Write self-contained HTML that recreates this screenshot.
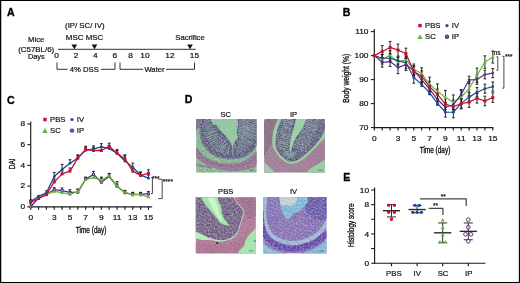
<!DOCTYPE html>
<html><head><meta charset="utf-8"><title>Figure</title>
<style>
html,body{margin:0;padding:0;background:#fff;overflow:hidden}
svg{display:block;position:absolute;left:0;top:0}
text{font-family:"Liberation Sans",sans-serif}
</style></head><body>
<svg width="520" height="283" viewBox="0 0 520 283">
<rect x="0" y="0" width="520" height="283" fill="#fff"/>
<text x="7.00" y="15.80" font-size="10.6" text-anchor="start" font-weight="bold" fill="#000"  stroke="#000" stroke-width="0.35">A</text>
<text x="84.80" y="28.10" font-size="7.8" text-anchor="middle" font-weight="normal" fill="#111" stroke="#111" stroke-width="0.2" >(IP/ SC/ IV)</text>
<text x="84.60" y="39.90" font-size="7.95" text-anchor="middle" font-weight="normal" fill="#111" stroke="#111" stroke-width="0.2" >MSC MSC</text>
<text x="36.20" y="42.10" font-size="7.7" text-anchor="middle" font-weight="normal" fill="#111" stroke="#111" stroke-width="0.2" >Mice</text>
<text x="36.20" y="51.80" font-size="7.9" text-anchor="middle" font-weight="normal" fill="#111" stroke="#111" stroke-width="0.2" >(C57BL/6)</text>
<text x="36.30" y="59.30" font-size="7.4" text-anchor="middle" font-weight="normal" fill="#111" stroke="#111" stroke-width="0.2" >Days</text>
<text x="190.00" y="39.60" font-size="7.7" text-anchor="middle" font-weight="normal" fill="#111" stroke="#111" stroke-width="0.2" >Sacrifice</text>
<line x1="58.00" y1="49.30" x2="195.80" y2="49.30" stroke="#1a1a1a" stroke-width="0.9" />
<polygon points="71.45,44.5 77.14999999999999,44.5 74.3,49.3" fill="#111"/>
<polygon points="91.65,44.5 97.35,44.5 94.5,49.3" fill="#111"/>
<polygon points="187.15,44.5 192.85,44.5 190,49.3" fill="#111"/>
<text transform="translate(56.60,58.30) scale(1.13,1)" font-size="7.4" text-anchor="middle" font-weight="normal" fill="#111" stroke="#111" stroke-width="0.2" >0</text>
<text transform="translate(76.10,58.30) scale(1.13,1)" font-size="7.4" text-anchor="middle" font-weight="normal" fill="#111" stroke="#111" stroke-width="0.2" >2</text>
<text transform="translate(95.20,58.30) scale(1.13,1)" font-size="7.4" text-anchor="middle" font-weight="normal" fill="#111" stroke="#111" stroke-width="0.2" >4</text>
<text transform="translate(114.70,58.30) scale(1.13,1)" font-size="7.4" text-anchor="middle" font-weight="normal" fill="#111" stroke="#111" stroke-width="0.2" >6</text>
<text transform="translate(130.50,58.30) scale(1.13,1)" font-size="7.4" text-anchor="middle" font-weight="normal" fill="#111" stroke="#111" stroke-width="0.2" >8</text>
<text transform="translate(145.00,58.30) scale(1.13,1)" font-size="7.4" text-anchor="middle" font-weight="normal" fill="#111" stroke="#111" stroke-width="0.2" >10</text>
<text transform="translate(170.00,58.30) scale(1.13,1)" font-size="7.4" text-anchor="middle" font-weight="normal" fill="#111" stroke="#111" stroke-width="0.2" >12</text>
<text transform="translate(194.50,58.30) scale(1.13,1)" font-size="7.4" text-anchor="middle" font-weight="normal" fill="#111" stroke="#111" stroke-width="0.2" >15</text>
<polyline points="57.00,62.50 57.00,69.30 67.50,69.30" fill="none" stroke="#1a1a1a" stroke-width="0.9" stroke-linejoin="round" />
<polyline points="100.80,69.30 115.00,69.30 115.00,62.50" fill="none" stroke="#1a1a1a" stroke-width="0.9" stroke-linejoin="round" />
<text x="84.30" y="71.80" font-size="7.7" text-anchor="middle" font-weight="normal" fill="#111" stroke="#111" stroke-width="0.2" >4% DSS</text>
<polyline points="120.00,62.50 120.00,69.30 143.00,69.30" fill="none" stroke="#1a1a1a" stroke-width="0.9" stroke-linejoin="round" />
<polyline points="166.00,69.30 194.50,69.30 194.50,62.50" fill="none" stroke="#1a1a1a" stroke-width="0.9" stroke-linejoin="round" />
<text x="154.50" y="71.80" font-size="7.7" text-anchor="middle" font-weight="normal" fill="#111" stroke="#111" stroke-width="0.2" >Water</text>
<text x="342.80" y="15.60" font-size="10.6" text-anchor="start" font-weight="bold" fill="#000"  stroke="#000" stroke-width="0.35">B</text>
<line x1="374.30" y1="29.00" x2="374.30" y2="128.10" stroke="#1a1a1a" stroke-width="1.15" />
<line x1="373.80" y1="127.60" x2="493.30" y2="127.60" stroke="#1a1a1a" stroke-width="1.15" />
<line x1="370.90" y1="127.60" x2="374.30" y2="127.60" stroke="#1a1a1a" stroke-width="1.1" />
<text transform="translate(368.50,129.90) scale(1.13,1)" font-size="7.4" text-anchor="end" font-weight="normal" fill="#111" stroke="#111" stroke-width="0.2" >70</text>
<line x1="370.90" y1="103.60" x2="374.30" y2="103.60" stroke="#1a1a1a" stroke-width="1.1" />
<text transform="translate(368.50,105.90) scale(1.13,1)" font-size="7.4" text-anchor="end" font-weight="normal" fill="#111" stroke="#111" stroke-width="0.2" >80</text>
<line x1="370.90" y1="79.60" x2="374.30" y2="79.60" stroke="#1a1a1a" stroke-width="1.1" />
<text transform="translate(368.50,81.90) scale(1.13,1)" font-size="7.4" text-anchor="end" font-weight="normal" fill="#111" stroke="#111" stroke-width="0.2" >90</text>
<line x1="370.90" y1="55.60" x2="374.30" y2="55.60" stroke="#1a1a1a" stroke-width="1.1" />
<text transform="translate(368.50,57.90) scale(1.13,1)" font-size="7.4" text-anchor="end" font-weight="normal" fill="#111" stroke="#111" stroke-width="0.2" >100</text>
<line x1="370.90" y1="31.60" x2="374.30" y2="31.60" stroke="#1a1a1a" stroke-width="1.1" />
<text transform="translate(368.50,33.90) scale(1.13,1)" font-size="7.4" text-anchor="end" font-weight="normal" fill="#111" stroke="#111" stroke-width="0.2" >110</text>
<line x1="374.30" y1="127.60" x2="374.30" y2="130.60" stroke="#1a1a1a" stroke-width="1.15" />
<line x1="382.20" y1="127.60" x2="382.20" y2="130.60" stroke="#1a1a1a" stroke-width="1.15" />
<line x1="390.10" y1="127.60" x2="390.10" y2="130.60" stroke="#1a1a1a" stroke-width="1.15" />
<line x1="398.00" y1="127.60" x2="398.00" y2="130.60" stroke="#1a1a1a" stroke-width="1.15" />
<line x1="405.90" y1="127.60" x2="405.90" y2="130.60" stroke="#1a1a1a" stroke-width="1.15" />
<line x1="413.80" y1="127.60" x2="413.80" y2="130.60" stroke="#1a1a1a" stroke-width="1.15" />
<line x1="421.70" y1="127.60" x2="421.70" y2="130.60" stroke="#1a1a1a" stroke-width="1.15" />
<line x1="429.60" y1="127.60" x2="429.60" y2="130.60" stroke="#1a1a1a" stroke-width="1.15" />
<line x1="437.50" y1="127.60" x2="437.50" y2="130.60" stroke="#1a1a1a" stroke-width="1.15" />
<line x1="445.40" y1="127.60" x2="445.40" y2="130.60" stroke="#1a1a1a" stroke-width="1.15" />
<line x1="453.30" y1="127.60" x2="453.30" y2="130.60" stroke="#1a1a1a" stroke-width="1.15" />
<line x1="461.20" y1="127.60" x2="461.20" y2="130.60" stroke="#1a1a1a" stroke-width="1.15" />
<line x1="469.10" y1="127.60" x2="469.10" y2="130.60" stroke="#1a1a1a" stroke-width="1.15" />
<line x1="477.00" y1="127.60" x2="477.00" y2="130.60" stroke="#1a1a1a" stroke-width="1.15" />
<line x1="484.90" y1="127.60" x2="484.90" y2="130.60" stroke="#1a1a1a" stroke-width="1.15" />
<line x1="492.80" y1="127.60" x2="492.80" y2="130.60" stroke="#1a1a1a" stroke-width="1.15" />
<text transform="translate(374.30,140.50) scale(1.13,1)" font-size="7.4" text-anchor="middle" font-weight="normal" fill="#111" stroke="#111" stroke-width="0.2" >0</text>
<text transform="translate(398.00,140.50) scale(1.13,1)" font-size="7.4" text-anchor="middle" font-weight="normal" fill="#111" stroke="#111" stroke-width="0.2" >3</text>
<text transform="translate(413.80,140.50) scale(1.13,1)" font-size="7.4" text-anchor="middle" font-weight="normal" fill="#111" stroke="#111" stroke-width="0.2" >5</text>
<text transform="translate(429.60,140.50) scale(1.13,1)" font-size="7.4" text-anchor="middle" font-weight="normal" fill="#111" stroke="#111" stroke-width="0.2" >7</text>
<text transform="translate(445.40,140.50) scale(1.13,1)" font-size="7.4" text-anchor="middle" font-weight="normal" fill="#111" stroke="#111" stroke-width="0.2" >9</text>
<text transform="translate(461.20,140.50) scale(1.13,1)" font-size="7.4" text-anchor="middle" font-weight="normal" fill="#111" stroke="#111" stroke-width="0.2" >11</text>
<text transform="translate(477.00,140.50) scale(1.13,1)" font-size="7.4" text-anchor="middle" font-weight="normal" fill="#111" stroke="#111" stroke-width="0.2" >13</text>
<text transform="translate(492.80,140.50) scale(1.13,1)" font-size="7.4" text-anchor="middle" font-weight="normal" fill="#111" stroke="#111" stroke-width="0.2" >15</text>
<text transform="translate(348.90,78.30) rotate(-90) scale(0.825,1)" font-size="8.2" text-anchor="middle" fill="#111" stroke="#111" stroke-width="0.32">Body weight (%)</text>
<text transform="translate(435.00,153.20) scale(0.79,1)" font-size="8.2" text-anchor="middle" fill="#111" stroke="#111" stroke-width="0.32">Time (day)</text>
<line x1="382.20" y1="54.40" x2="382.20" y2="64.00" stroke="#111" stroke-width="0.9" />
<line x1="380.80" y1="54.40" x2="383.60" y2="54.40" stroke="#111" stroke-width="0.9" />
<line x1="380.80" y1="64.00" x2="383.60" y2="64.00" stroke="#111" stroke-width="0.9" />
<line x1="390.10" y1="50.56" x2="390.10" y2="60.16" stroke="#111" stroke-width="0.9" />
<line x1="388.70" y1="50.56" x2="391.50" y2="50.56" stroke="#111" stroke-width="0.9" />
<line x1="388.70" y1="60.16" x2="391.50" y2="60.16" stroke="#111" stroke-width="0.9" />
<line x1="398.00" y1="57.28" x2="398.00" y2="66.88" stroke="#111" stroke-width="0.9" />
<line x1="396.60" y1="57.28" x2="399.40" y2="57.28" stroke="#111" stroke-width="0.9" />
<line x1="396.60" y1="66.88" x2="399.40" y2="66.88" stroke="#111" stroke-width="0.9" />
<line x1="405.90" y1="55.12" x2="405.90" y2="64.72" stroke="#111" stroke-width="0.9" />
<line x1="404.50" y1="55.12" x2="407.30" y2="55.12" stroke="#111" stroke-width="0.9" />
<line x1="404.50" y1="64.72" x2="407.30" y2="64.72" stroke="#111" stroke-width="0.9" />
<line x1="413.80" y1="64.00" x2="413.80" y2="74.56" stroke="#111" stroke-width="0.9" />
<line x1="412.40" y1="64.00" x2="415.20" y2="64.00" stroke="#111" stroke-width="0.9" />
<line x1="412.40" y1="74.56" x2="415.20" y2="74.56" stroke="#111" stroke-width="0.9" />
<line x1="421.70" y1="67.84" x2="421.70" y2="79.84" stroke="#111" stroke-width="0.9" />
<line x1="420.30" y1="67.84" x2="423.10" y2="67.84" stroke="#111" stroke-width="0.9" />
<line x1="420.30" y1="79.84" x2="423.10" y2="79.84" stroke="#111" stroke-width="0.9" />
<line x1="429.60" y1="77.20" x2="429.60" y2="91.60" stroke="#111" stroke-width="0.9" />
<line x1="428.20" y1="77.20" x2="431.00" y2="77.20" stroke="#111" stroke-width="0.9" />
<line x1="428.20" y1="91.60" x2="431.00" y2="91.60" stroke="#111" stroke-width="0.9" />
<line x1="437.50" y1="83.92" x2="437.50" y2="98.32" stroke="#111" stroke-width="0.9" />
<line x1="436.10" y1="83.92" x2="438.90" y2="83.92" stroke="#111" stroke-width="0.9" />
<line x1="436.10" y1="98.32" x2="438.90" y2="98.32" stroke="#111" stroke-width="0.9" />
<line x1="445.40" y1="90.40" x2="445.40" y2="104.80" stroke="#111" stroke-width="0.9" />
<line x1="444.00" y1="90.40" x2="446.80" y2="90.40" stroke="#111" stroke-width="0.9" />
<line x1="444.00" y1="104.80" x2="446.80" y2="104.80" stroke="#111" stroke-width="0.9" />
<line x1="453.30" y1="94.96" x2="453.30" y2="109.36" stroke="#111" stroke-width="0.9" />
<line x1="451.90" y1="94.96" x2="454.70" y2="94.96" stroke="#111" stroke-width="0.9" />
<line x1="451.90" y1="109.36" x2="454.70" y2="109.36" stroke="#111" stroke-width="0.9" />
<line x1="461.20" y1="89.92" x2="461.20" y2="104.32" stroke="#111" stroke-width="0.9" />
<line x1="459.80" y1="89.92" x2="462.60" y2="89.92" stroke="#111" stroke-width="0.9" />
<line x1="459.80" y1="104.32" x2="462.60" y2="104.32" stroke="#111" stroke-width="0.9" />
<line x1="469.10" y1="81.52" x2="469.10" y2="95.92" stroke="#111" stroke-width="0.9" />
<line x1="467.70" y1="81.52" x2="470.50" y2="81.52" stroke="#111" stroke-width="0.9" />
<line x1="467.70" y1="95.92" x2="470.50" y2="95.92" stroke="#111" stroke-width="0.9" />
<line x1="477.00" y1="68.08" x2="477.00" y2="82.48" stroke="#111" stroke-width="0.9" />
<line x1="475.60" y1="68.08" x2="478.40" y2="68.08" stroke="#111" stroke-width="0.9" />
<line x1="475.60" y1="82.48" x2="478.40" y2="82.48" stroke="#111" stroke-width="0.9" />
<line x1="484.90" y1="55.84" x2="484.90" y2="68.32" stroke="#111" stroke-width="0.9" />
<line x1="483.50" y1="55.84" x2="486.30" y2="55.84" stroke="#111" stroke-width="0.9" />
<line x1="483.50" y1="68.32" x2="486.30" y2="68.32" stroke="#111" stroke-width="0.9" />
<line x1="492.80" y1="51.04" x2="492.80" y2="63.04" stroke="#111" stroke-width="0.9" />
<line x1="491.40" y1="51.04" x2="494.20" y2="51.04" stroke="#111" stroke-width="0.9" />
<line x1="491.40" y1="63.04" x2="494.20" y2="63.04" stroke="#111" stroke-width="0.9" />
<line x1="382.20" y1="54.64" x2="382.20" y2="61.84" stroke="#111" stroke-width="0.9" />
<line x1="380.80" y1="54.64" x2="383.60" y2="54.64" stroke="#111" stroke-width="0.9" />
<line x1="380.80" y1="61.84" x2="383.60" y2="61.84" stroke="#111" stroke-width="0.9" />
<line x1="390.10" y1="54.64" x2="390.10" y2="61.84" stroke="#111" stroke-width="0.9" />
<line x1="388.70" y1="54.64" x2="391.50" y2="54.64" stroke="#111" stroke-width="0.9" />
<line x1="388.70" y1="61.84" x2="391.50" y2="61.84" stroke="#111" stroke-width="0.9" />
<line x1="398.00" y1="57.04" x2="398.00" y2="64.24" stroke="#111" stroke-width="0.9" />
<line x1="396.60" y1="57.04" x2="399.40" y2="57.04" stroke="#111" stroke-width="0.9" />
<line x1="396.60" y1="64.24" x2="399.40" y2="64.24" stroke="#111" stroke-width="0.9" />
<line x1="405.90" y1="56.80" x2="405.90" y2="68.80" stroke="#111" stroke-width="0.9" />
<line x1="404.50" y1="56.80" x2="407.30" y2="56.80" stroke="#111" stroke-width="0.9" />
<line x1="404.50" y1="68.80" x2="407.30" y2="68.80" stroke="#111" stroke-width="0.9" />
<line x1="413.80" y1="71.68" x2="413.80" y2="83.20" stroke="#111" stroke-width="0.9" />
<line x1="412.40" y1="71.68" x2="415.20" y2="71.68" stroke="#111" stroke-width="0.9" />
<line x1="412.40" y1="83.20" x2="415.20" y2="83.20" stroke="#111" stroke-width="0.9" />
<line x1="421.70" y1="82.48" x2="421.70" y2="86.32" stroke="#111" stroke-width="0.9" />
<line x1="420.30" y1="82.48" x2="423.10" y2="82.48" stroke="#111" stroke-width="0.9" />
<line x1="420.30" y1="86.32" x2="423.10" y2="86.32" stroke="#111" stroke-width="0.9" />
<line x1="429.60" y1="90.88" x2="429.60" y2="94.72" stroke="#111" stroke-width="0.9" />
<line x1="428.20" y1="90.88" x2="431.00" y2="90.88" stroke="#111" stroke-width="0.9" />
<line x1="428.20" y1="94.72" x2="431.00" y2="94.72" stroke="#111" stroke-width="0.9" />
<line x1="437.50" y1="101.44" x2="437.50" y2="105.28" stroke="#111" stroke-width="0.9" />
<line x1="436.10" y1="101.44" x2="438.90" y2="101.44" stroke="#111" stroke-width="0.9" />
<line x1="436.10" y1="105.28" x2="438.90" y2="105.28" stroke="#111" stroke-width="0.9" />
<line x1="445.40" y1="107.44" x2="445.40" y2="117.04" stroke="#111" stroke-width="0.9" />
<line x1="444.00" y1="107.44" x2="446.80" y2="107.44" stroke="#111" stroke-width="0.9" />
<line x1="444.00" y1="117.04" x2="446.80" y2="117.04" stroke="#111" stroke-width="0.9" />
<line x1="453.30" y1="106.72" x2="453.30" y2="117.76" stroke="#111" stroke-width="0.9" />
<line x1="451.90" y1="106.72" x2="454.70" y2="106.72" stroke="#111" stroke-width="0.9" />
<line x1="451.90" y1="117.76" x2="454.70" y2="117.76" stroke="#111" stroke-width="0.9" />
<line x1="461.20" y1="98.56" x2="461.20" y2="108.16" stroke="#111" stroke-width="0.9" />
<line x1="459.80" y1="98.56" x2="462.60" y2="98.56" stroke="#111" stroke-width="0.9" />
<line x1="459.80" y1="108.16" x2="462.60" y2="108.16" stroke="#111" stroke-width="0.9" />
<line x1="469.10" y1="92.32" x2="469.10" y2="101.92" stroke="#111" stroke-width="0.9" />
<line x1="467.70" y1="92.32" x2="470.50" y2="92.32" stroke="#111" stroke-width="0.9" />
<line x1="467.70" y1="101.92" x2="470.50" y2="101.92" stroke="#111" stroke-width="0.9" />
<line x1="477.00" y1="87.52" x2="477.00" y2="97.12" stroke="#111" stroke-width="0.9" />
<line x1="475.60" y1="87.52" x2="478.40" y2="87.52" stroke="#111" stroke-width="0.9" />
<line x1="475.60" y1="97.12" x2="478.40" y2="97.12" stroke="#111" stroke-width="0.9" />
<line x1="484.90" y1="84.16" x2="484.90" y2="93.28" stroke="#111" stroke-width="0.9" />
<line x1="483.50" y1="84.16" x2="486.30" y2="84.16" stroke="#111" stroke-width="0.9" />
<line x1="483.50" y1="93.28" x2="486.30" y2="93.28" stroke="#111" stroke-width="0.9" />
<line x1="492.80" y1="82.00" x2="492.80" y2="91.12" stroke="#111" stroke-width="0.9" />
<line x1="491.40" y1="82.00" x2="494.20" y2="82.00" stroke="#111" stroke-width="0.9" />
<line x1="491.40" y1="91.12" x2="494.20" y2="91.12" stroke="#111" stroke-width="0.9" />
<line x1="382.20" y1="57.52" x2="382.20" y2="67.12" stroke="#111" stroke-width="0.9" />
<line x1="380.80" y1="57.52" x2="383.60" y2="57.52" stroke="#111" stroke-width="0.9" />
<line x1="380.80" y1="67.12" x2="383.60" y2="67.12" stroke="#111" stroke-width="0.9" />
<line x1="390.10" y1="56.80" x2="390.10" y2="66.40" stroke="#111" stroke-width="0.9" />
<line x1="388.70" y1="56.80" x2="391.50" y2="56.80" stroke="#111" stroke-width="0.9" />
<line x1="388.70" y1="66.40" x2="391.50" y2="66.40" stroke="#111" stroke-width="0.9" />
<line x1="398.00" y1="61.60" x2="398.00" y2="73.60" stroke="#111" stroke-width="0.9" />
<line x1="396.60" y1="61.60" x2="399.40" y2="61.60" stroke="#111" stroke-width="0.9" />
<line x1="396.60" y1="73.60" x2="399.40" y2="73.60" stroke="#111" stroke-width="0.9" />
<line x1="405.90" y1="58.48" x2="405.90" y2="70.48" stroke="#111" stroke-width="0.9" />
<line x1="404.50" y1="58.48" x2="407.30" y2="58.48" stroke="#111" stroke-width="0.9" />
<line x1="404.50" y1="70.48" x2="407.30" y2="70.48" stroke="#111" stroke-width="0.9" />
<line x1="413.80" y1="65.92" x2="413.80" y2="75.52" stroke="#111" stroke-width="0.9" />
<line x1="412.40" y1="65.92" x2="415.20" y2="65.92" stroke="#111" stroke-width="0.9" />
<line x1="412.40" y1="75.52" x2="415.20" y2="75.52" stroke="#111" stroke-width="0.9" />
<line x1="421.70" y1="74.80" x2="421.70" y2="84.40" stroke="#111" stroke-width="0.9" />
<line x1="420.30" y1="74.80" x2="423.10" y2="74.80" stroke="#111" stroke-width="0.9" />
<line x1="420.30" y1="84.40" x2="423.10" y2="84.40" stroke="#111" stroke-width="0.9" />
<line x1="429.60" y1="84.40" x2="429.60" y2="94.00" stroke="#111" stroke-width="0.9" />
<line x1="428.20" y1="84.40" x2="431.00" y2="84.40" stroke="#111" stroke-width="0.9" />
<line x1="428.20" y1="94.00" x2="431.00" y2="94.00" stroke="#111" stroke-width="0.9" />
<line x1="437.50" y1="94.72" x2="437.50" y2="104.32" stroke="#111" stroke-width="0.9" />
<line x1="436.10" y1="94.72" x2="438.90" y2="94.72" stroke="#111" stroke-width="0.9" />
<line x1="436.10" y1="104.32" x2="438.90" y2="104.32" stroke="#111" stroke-width="0.9" />
<line x1="445.40" y1="102.40" x2="445.40" y2="112.00" stroke="#111" stroke-width="0.9" />
<line x1="444.00" y1="102.40" x2="446.80" y2="102.40" stroke="#111" stroke-width="0.9" />
<line x1="444.00" y1="112.00" x2="446.80" y2="112.00" stroke="#111" stroke-width="0.9" />
<line x1="453.30" y1="100.00" x2="453.30" y2="109.60" stroke="#111" stroke-width="0.9" />
<line x1="451.90" y1="100.00" x2="454.70" y2="100.00" stroke="#111" stroke-width="0.9" />
<line x1="451.90" y1="109.60" x2="454.70" y2="109.60" stroke="#111" stroke-width="0.9" />
<line x1="461.20" y1="89.68" x2="461.20" y2="99.28" stroke="#111" stroke-width="0.9" />
<line x1="459.80" y1="89.68" x2="462.60" y2="89.68" stroke="#111" stroke-width="0.9" />
<line x1="459.80" y1="99.28" x2="462.60" y2="99.28" stroke="#111" stroke-width="0.9" />
<line x1="469.10" y1="76.24" x2="469.10" y2="83.44" stroke="#111" stroke-width="0.9" />
<line x1="467.70" y1="76.24" x2="470.50" y2="76.24" stroke="#111" stroke-width="0.9" />
<line x1="467.70" y1="83.44" x2="470.50" y2="83.44" stroke="#111" stroke-width="0.9" />
<line x1="477.00" y1="74.80" x2="477.00" y2="84.40" stroke="#111" stroke-width="0.9" />
<line x1="475.60" y1="74.80" x2="478.40" y2="74.80" stroke="#111" stroke-width="0.9" />
<line x1="475.60" y1="84.40" x2="478.40" y2="84.40" stroke="#111" stroke-width="0.9" />
<line x1="484.90" y1="70.24" x2="484.90" y2="78.88" stroke="#111" stroke-width="0.9" />
<line x1="483.50" y1="70.24" x2="486.30" y2="70.24" stroke="#111" stroke-width="0.9" />
<line x1="483.50" y1="78.88" x2="486.30" y2="78.88" stroke="#111" stroke-width="0.9" />
<line x1="492.80" y1="68.56" x2="492.80" y2="77.68" stroke="#111" stroke-width="0.9" />
<line x1="491.40" y1="68.56" x2="494.20" y2="68.56" stroke="#111" stroke-width="0.9" />
<line x1="491.40" y1="77.68" x2="494.20" y2="77.68" stroke="#111" stroke-width="0.9" />
<line x1="382.20" y1="45.52" x2="382.20" y2="57.52" stroke="#111" stroke-width="0.9" />
<line x1="380.80" y1="45.52" x2="383.60" y2="45.52" stroke="#111" stroke-width="0.9" />
<line x1="380.80" y1="57.52" x2="383.60" y2="57.52" stroke="#111" stroke-width="0.9" />
<line x1="390.10" y1="41.44" x2="390.10" y2="53.44" stroke="#111" stroke-width="0.9" />
<line x1="388.70" y1="41.44" x2="391.50" y2="41.44" stroke="#111" stroke-width="0.9" />
<line x1="388.70" y1="53.44" x2="391.50" y2="53.44" stroke="#111" stroke-width="0.9" />
<line x1="398.00" y1="44.08" x2="398.00" y2="56.08" stroke="#111" stroke-width="0.9" />
<line x1="396.60" y1="44.08" x2="399.40" y2="44.08" stroke="#111" stroke-width="0.9" />
<line x1="396.60" y1="56.08" x2="399.40" y2="56.08" stroke="#111" stroke-width="0.9" />
<line x1="405.90" y1="48.16" x2="405.90" y2="58.72" stroke="#111" stroke-width="0.9" />
<line x1="404.50" y1="48.16" x2="407.30" y2="48.16" stroke="#111" stroke-width="0.9" />
<line x1="404.50" y1="58.72" x2="407.30" y2="58.72" stroke="#111" stroke-width="0.9" />
<line x1="413.80" y1="66.16" x2="413.80" y2="76.72" stroke="#111" stroke-width="0.9" />
<line x1="412.40" y1="66.16" x2="415.20" y2="66.16" stroke="#111" stroke-width="0.9" />
<line x1="412.40" y1="76.72" x2="415.20" y2="76.72" stroke="#111" stroke-width="0.9" />
<line x1="421.70" y1="70.96" x2="421.70" y2="81.52" stroke="#111" stroke-width="0.9" />
<line x1="420.30" y1="70.96" x2="423.10" y2="70.96" stroke="#111" stroke-width="0.9" />
<line x1="420.30" y1="81.52" x2="423.10" y2="81.52" stroke="#111" stroke-width="0.9" />
<line x1="429.60" y1="81.28" x2="429.60" y2="91.84" stroke="#111" stroke-width="0.9" />
<line x1="428.20" y1="81.28" x2="431.00" y2="81.28" stroke="#111" stroke-width="0.9" />
<line x1="428.20" y1="91.84" x2="431.00" y2="91.84" stroke="#111" stroke-width="0.9" />
<line x1="437.50" y1="89.20" x2="437.50" y2="99.76" stroke="#111" stroke-width="0.9" />
<line x1="436.10" y1="89.20" x2="438.90" y2="89.20" stroke="#111" stroke-width="0.9" />
<line x1="436.10" y1="99.76" x2="438.90" y2="99.76" stroke="#111" stroke-width="0.9" />
<line x1="445.40" y1="98.80" x2="445.40" y2="109.36" stroke="#111" stroke-width="0.9" />
<line x1="444.00" y1="98.80" x2="446.80" y2="98.80" stroke="#111" stroke-width="0.9" />
<line x1="444.00" y1="109.36" x2="446.80" y2="109.36" stroke="#111" stroke-width="0.9" />
<line x1="453.30" y1="101.44" x2="453.30" y2="112.00" stroke="#111" stroke-width="0.9" />
<line x1="451.90" y1="101.44" x2="454.70" y2="101.44" stroke="#111" stroke-width="0.9" />
<line x1="451.90" y1="112.00" x2="454.70" y2="112.00" stroke="#111" stroke-width="0.9" />
<line x1="461.20" y1="98.32" x2="461.20" y2="108.88" stroke="#111" stroke-width="0.9" />
<line x1="459.80" y1="98.32" x2="462.60" y2="98.32" stroke="#111" stroke-width="0.9" />
<line x1="459.80" y1="108.88" x2="462.60" y2="108.88" stroke="#111" stroke-width="0.9" />
<line x1="469.10" y1="96.88" x2="469.10" y2="107.44" stroke="#111" stroke-width="0.9" />
<line x1="467.70" y1="96.88" x2="470.50" y2="96.88" stroke="#111" stroke-width="0.9" />
<line x1="467.70" y1="107.44" x2="470.50" y2="107.44" stroke="#111" stroke-width="0.9" />
<line x1="477.00" y1="93.52" x2="477.00" y2="103.12" stroke="#111" stroke-width="0.9" />
<line x1="475.60" y1="93.52" x2="478.40" y2="93.52" stroke="#111" stroke-width="0.9" />
<line x1="475.60" y1="103.12" x2="478.40" y2="103.12" stroke="#111" stroke-width="0.9" />
<line x1="484.90" y1="96.16" x2="484.90" y2="105.76" stroke="#111" stroke-width="0.9" />
<line x1="483.50" y1="96.16" x2="486.30" y2="96.16" stroke="#111" stroke-width="0.9" />
<line x1="483.50" y1="105.76" x2="486.30" y2="105.76" stroke="#111" stroke-width="0.9" />
<line x1="492.80" y1="92.80" x2="492.80" y2="102.40" stroke="#111" stroke-width="0.9" />
<line x1="491.40" y1="92.80" x2="494.20" y2="92.80" stroke="#111" stroke-width="0.9" />
<line x1="491.40" y1="102.40" x2="494.20" y2="102.40" stroke="#111" stroke-width="0.9" />
<polyline points="374.30,55.60 382.20,59.20 390.10,55.36 398.00,62.08 405.90,59.92 413.80,69.28 421.70,73.84 429.60,84.40 437.50,91.12 445.40,97.60 453.30,102.16 461.20,97.12 469.10,88.72 477.00,75.28 484.90,62.08 492.80,57.04" fill="none" stroke="#62b53e" stroke-width="1.2" stroke-linejoin="round" />
<polygon points="374.30,53.80 372.50,57.04 376.10,57.04" fill="#62b53e"/>
<polygon points="382.20,57.40 380.40,60.64 384.00,60.64" fill="#62b53e"/>
<polygon points="390.10,53.56 388.30,56.80 391.90,56.80" fill="#62b53e"/>
<polygon points="398.00,60.28 396.20,63.52 399.80,63.52" fill="#62b53e"/>
<polygon points="405.90,58.12 404.10,61.36 407.70,61.36" fill="#62b53e"/>
<polygon points="413.80,67.48 412.00,70.72 415.60,70.72" fill="#62b53e"/>
<polygon points="421.70,72.04 419.90,75.28 423.50,75.28" fill="#62b53e"/>
<polygon points="429.60,82.60 427.80,85.84 431.40,85.84" fill="#62b53e"/>
<polygon points="437.50,89.32 435.70,92.56 439.30,92.56" fill="#62b53e"/>
<polygon points="445.40,95.80 443.60,99.04 447.20,99.04" fill="#62b53e"/>
<polygon points="453.30,100.36 451.50,103.60 455.10,103.60" fill="#62b53e"/>
<polygon points="461.20,95.32 459.40,98.56 463.00,98.56" fill="#62b53e"/>
<polygon points="469.10,86.92 467.30,90.16 470.90,90.16" fill="#62b53e"/>
<polygon points="477.00,73.48 475.20,76.72 478.80,76.72" fill="#62b53e"/>
<polygon points="484.90,60.28 483.10,63.52 486.70,63.52" fill="#62b53e"/>
<polygon points="492.80,55.24 491.00,58.48 494.60,58.48" fill="#62b53e"/>
<polyline points="374.30,55.60 382.20,58.24 390.10,58.24 398.00,60.64 405.90,62.80 413.80,77.44 421.70,84.40 429.60,92.80 437.50,103.36 445.40,112.24 453.30,112.24 461.20,103.36 469.10,97.12 477.00,92.32 484.90,88.72 492.80,86.56" fill="none" stroke="#1e4a90" stroke-width="1.2" stroke-linejoin="round" />
<circle cx="374.30" cy="55.60" r="1.37" fill="#1e4a90"/>
<circle cx="382.20" cy="58.24" r="1.37" fill="#1e4a90"/>
<circle cx="390.10" cy="58.24" r="1.37" fill="#1e4a90"/>
<circle cx="398.00" cy="60.64" r="1.37" fill="#1e4a90"/>
<circle cx="405.90" cy="62.80" r="1.37" fill="#1e4a90"/>
<circle cx="413.80" cy="77.44" r="1.37" fill="#1e4a90"/>
<circle cx="421.70" cy="84.40" r="1.37" fill="#1e4a90"/>
<circle cx="429.60" cy="92.80" r="1.37" fill="#1e4a90"/>
<circle cx="437.50" cy="103.36" r="1.37" fill="#1e4a90"/>
<circle cx="445.40" cy="112.24" r="1.37" fill="#1e4a90"/>
<circle cx="453.30" cy="112.24" r="1.37" fill="#1e4a90"/>
<circle cx="461.20" cy="103.36" r="1.37" fill="#1e4a90"/>
<circle cx="469.10" cy="97.12" r="1.37" fill="#1e4a90"/>
<circle cx="477.00" cy="92.32" r="1.37" fill="#1e4a90"/>
<circle cx="484.90" cy="88.72" r="1.37" fill="#1e4a90"/>
<circle cx="492.80" cy="86.56" r="1.37" fill="#1e4a90"/>
<polyline points="374.30,55.60 382.20,62.32 390.10,61.60 398.00,67.60 405.90,64.48 413.80,70.72 421.70,79.60 429.60,89.20 437.50,99.52 445.40,107.20 453.30,104.80 461.20,94.48 469.10,79.84 477.00,79.60 484.90,74.56 492.80,73.12" fill="none" stroke="#5a2b80" stroke-width="1.2" stroke-linejoin="round" />
<polygon points="374.30,53.98 372.68,55.60 374.30,57.22 375.92,55.60" fill="#5a2b80"/>
<polygon points="382.20,60.70 380.58,62.32 382.20,63.94 383.82,62.32" fill="#5a2b80"/>
<polygon points="390.10,59.98 388.48,61.60 390.10,63.22 391.72,61.60" fill="#5a2b80"/>
<polygon points="398.00,65.98 396.38,67.60 398.00,69.22 399.62,67.60" fill="#5a2b80"/>
<polygon points="405.90,62.86 404.28,64.48 405.90,66.10 407.52,64.48" fill="#5a2b80"/>
<polygon points="413.80,69.10 412.18,70.72 413.80,72.34 415.42,70.72" fill="#5a2b80"/>
<polygon points="421.70,77.98 420.08,79.60 421.70,81.22 423.32,79.60" fill="#5a2b80"/>
<polygon points="429.60,87.58 427.98,89.20 429.60,90.82 431.22,89.20" fill="#5a2b80"/>
<polygon points="437.50,97.90 435.88,99.52 437.50,101.14 439.12,99.52" fill="#5a2b80"/>
<polygon points="445.40,105.58 443.78,107.20 445.40,108.82 447.02,107.20" fill="#5a2b80"/>
<polygon points="453.30,103.18 451.68,104.80 453.30,106.42 454.92,104.80" fill="#5a2b80"/>
<polygon points="461.20,92.86 459.58,94.48 461.20,96.10 462.82,94.48" fill="#5a2b80"/>
<polygon points="469.10,78.22 467.48,79.84 469.10,81.46 470.72,79.84" fill="#5a2b80"/>
<polygon points="477.00,77.98 475.38,79.60 477.00,81.22 478.62,79.60" fill="#5a2b80"/>
<polygon points="484.90,72.94 483.28,74.56 484.90,76.18 486.52,74.56" fill="#5a2b80"/>
<polygon points="492.80,71.50 491.18,73.12 492.80,74.74 494.42,73.12" fill="#5a2b80"/>
<polyline points="374.30,55.60 382.20,51.52 390.10,47.44 398.00,50.08 405.90,53.44 413.80,71.44 421.70,76.24 429.60,86.56 437.50,94.48 445.40,104.08 453.30,106.72 461.20,103.60 469.10,102.16 477.00,98.32 484.90,100.96 492.80,97.60" fill="none" stroke="#c4122f" stroke-width="1.2" stroke-linejoin="round" />
<rect x="372.80" y="54.10" width="3.00" height="3.00" fill="#c4122f"/>
<rect x="380.70" y="50.02" width="3.00" height="3.00" fill="#c4122f"/>
<rect x="388.60" y="45.94" width="3.00" height="3.00" fill="#c4122f"/>
<rect x="396.50" y="48.58" width="3.00" height="3.00" fill="#c4122f"/>
<rect x="404.40" y="51.94" width="3.00" height="3.00" fill="#c4122f"/>
<rect x="412.30" y="69.94" width="3.00" height="3.00" fill="#c4122f"/>
<rect x="420.20" y="74.74" width="3.00" height="3.00" fill="#c4122f"/>
<rect x="428.10" y="85.06" width="3.00" height="3.00" fill="#c4122f"/>
<rect x="436.00" y="92.98" width="3.00" height="3.00" fill="#c4122f"/>
<rect x="443.90" y="102.58" width="3.00" height="3.00" fill="#c4122f"/>
<rect x="451.80" y="105.22" width="3.00" height="3.00" fill="#c4122f"/>
<rect x="459.70" y="102.10" width="3.00" height="3.00" fill="#c4122f"/>
<rect x="467.60" y="100.66" width="3.00" height="3.00" fill="#c4122f"/>
<rect x="475.50" y="96.82" width="3.00" height="3.00" fill="#c4122f"/>
<rect x="483.40" y="99.46" width="3.00" height="3.00" fill="#c4122f"/>
<rect x="491.30" y="96.10" width="3.00" height="3.00" fill="#c4122f"/>
<rect x="418.27" y="23.88" width="3.45" height="3.45" fill="#c4122f"/>
<text x="425.00" y="28.00" font-size="7.7" text-anchor="start" font-weight="normal" fill="#111" stroke="#111" stroke-width="0.2" >PBS</text>
<circle cx="447.00" cy="25.60" r="1.62" fill="#1e4a90"/>
<text x="451.75" y="28.00" font-size="7.7" text-anchor="start" font-weight="normal" fill="#111" stroke="#111" stroke-width="0.2" >IV</text>
<polygon points="420.00,34.20 417.30,39.06 422.70,39.06" fill="#62b53e"/>
<text x="425.00" y="39.00" font-size="7.7" text-anchor="start" font-weight="normal" fill="#111" stroke="#111" stroke-width="0.2" >SC</text>
<circle cx="447.00" cy="36.70" r="2.2" fill="#5a2b80"/><circle cx="447.00" cy="36.70" r="0.8" fill="#a58cc0"/>
<text x="451.75" y="39.00" font-size="7.7" text-anchor="start" font-weight="normal" fill="#111" stroke="#111" stroke-width="0.2" >IP</text>
<text x="493.40" y="55.00" font-size="6.8" text-anchor="start" font-weight="normal" fill="#111" stroke="#111" stroke-width="0.2" >ns</text>
<polyline points="496.40,56.80 497.80,56.80 497.80,70.30 496.40,70.30" fill="none" stroke="#1a1a1a" stroke-width="0.8" stroke-linejoin="round" />
<polyline points="502.30,56.30 503.90,56.30 503.90,88.20 502.30,88.20" fill="none" stroke="#1a1a1a" stroke-width="0.8" stroke-linejoin="round" />
<text x="505.00" y="59.00" font-size="6.5" text-anchor="start" font-weight="normal" fill="#111" stroke="#111" stroke-width="0.2" >***</text>
<text x="7.00" y="103.50" font-size="10.6" text-anchor="start" font-weight="bold" fill="#000"  stroke="#000" stroke-width="0.35">C</text>
<line x1="30.70" y1="121.50" x2="30.70" y2="207.30" stroke="#1a1a1a" stroke-width="1.15" />
<line x1="30.20" y1="206.80" x2="152.15" y2="206.80" stroke="#1a1a1a" stroke-width="1.15" />
<line x1="27.30" y1="206.80" x2="30.70" y2="206.80" stroke="#1a1a1a" stroke-width="1.1" />
<text transform="translate(25.20,209.00) scale(1.13,1)" font-size="7.4" text-anchor="end" font-weight="normal" fill="#111" stroke="#111" stroke-width="0.2" >0</text>
<line x1="27.30" y1="186.10" x2="30.70" y2="186.10" stroke="#1a1a1a" stroke-width="1.1" />
<text transform="translate(25.20,188.30) scale(1.13,1)" font-size="7.4" text-anchor="end" font-weight="normal" fill="#111" stroke="#111" stroke-width="0.2" >2</text>
<line x1="27.30" y1="165.40" x2="30.70" y2="165.40" stroke="#1a1a1a" stroke-width="1.1" />
<text transform="translate(25.20,167.60) scale(1.13,1)" font-size="7.4" text-anchor="end" font-weight="normal" fill="#111" stroke="#111" stroke-width="0.2" >4</text>
<line x1="27.30" y1="144.70" x2="30.70" y2="144.70" stroke="#1a1a1a" stroke-width="1.1" />
<text transform="translate(25.20,146.90) scale(1.13,1)" font-size="7.4" text-anchor="end" font-weight="normal" fill="#111" stroke="#111" stroke-width="0.2" >6</text>
<line x1="27.30" y1="124.00" x2="30.70" y2="124.00" stroke="#1a1a1a" stroke-width="1.1" />
<text transform="translate(25.20,126.20) scale(1.13,1)" font-size="7.4" text-anchor="end" font-weight="normal" fill="#111" stroke="#111" stroke-width="0.2" >8</text>
<line x1="30.70" y1="206.80" x2="30.70" y2="209.80" stroke="#1a1a1a" stroke-width="1.15" />
<line x1="38.55" y1="206.80" x2="38.55" y2="209.80" stroke="#1a1a1a" stroke-width="1.15" />
<line x1="46.40" y1="206.80" x2="46.40" y2="209.80" stroke="#1a1a1a" stroke-width="1.15" />
<line x1="54.25" y1="206.80" x2="54.25" y2="209.80" stroke="#1a1a1a" stroke-width="1.15" />
<line x1="62.10" y1="206.80" x2="62.10" y2="209.80" stroke="#1a1a1a" stroke-width="1.15" />
<line x1="69.95" y1="206.80" x2="69.95" y2="209.80" stroke="#1a1a1a" stroke-width="1.15" />
<line x1="77.80" y1="206.80" x2="77.80" y2="209.80" stroke="#1a1a1a" stroke-width="1.15" />
<line x1="85.65" y1="206.80" x2="85.65" y2="209.80" stroke="#1a1a1a" stroke-width="1.15" />
<line x1="93.50" y1="206.80" x2="93.50" y2="209.80" stroke="#1a1a1a" stroke-width="1.15" />
<line x1="101.35" y1="206.80" x2="101.35" y2="209.80" stroke="#1a1a1a" stroke-width="1.15" />
<line x1="109.20" y1="206.80" x2="109.20" y2="209.80" stroke="#1a1a1a" stroke-width="1.15" />
<line x1="117.05" y1="206.80" x2="117.05" y2="209.80" stroke="#1a1a1a" stroke-width="1.15" />
<line x1="124.90" y1="206.80" x2="124.90" y2="209.80" stroke="#1a1a1a" stroke-width="1.15" />
<line x1="132.75" y1="206.80" x2="132.75" y2="209.80" stroke="#1a1a1a" stroke-width="1.15" />
<line x1="140.60" y1="206.80" x2="140.60" y2="209.80" stroke="#1a1a1a" stroke-width="1.15" />
<line x1="148.45" y1="206.80" x2="148.45" y2="209.80" stroke="#1a1a1a" stroke-width="1.15" />
<text transform="translate(30.70,219.80) scale(1.13,1)" font-size="7.4" text-anchor="middle" font-weight="normal" fill="#111" stroke="#111" stroke-width="0.2" >0</text>
<text transform="translate(54.25,219.80) scale(1.13,1)" font-size="7.4" text-anchor="middle" font-weight="normal" fill="#111" stroke="#111" stroke-width="0.2" >3</text>
<text transform="translate(69.95,219.80) scale(1.13,1)" font-size="7.4" text-anchor="middle" font-weight="normal" fill="#111" stroke="#111" stroke-width="0.2" >5</text>
<text transform="translate(85.65,219.80) scale(1.13,1)" font-size="7.4" text-anchor="middle" font-weight="normal" fill="#111" stroke="#111" stroke-width="0.2" >7</text>
<text transform="translate(101.35,219.80) scale(1.13,1)" font-size="7.4" text-anchor="middle" font-weight="normal" fill="#111" stroke="#111" stroke-width="0.2" >9</text>
<text transform="translate(117.05,219.80) scale(1.13,1)" font-size="7.4" text-anchor="middle" font-weight="normal" fill="#111" stroke="#111" stroke-width="0.2" >11</text>
<text transform="translate(132.75,219.80) scale(1.13,1)" font-size="7.4" text-anchor="middle" font-weight="normal" fill="#111" stroke="#111" stroke-width="0.2" >13</text>
<text transform="translate(148.45,219.80) scale(1.13,1)" font-size="7.4" text-anchor="middle" font-weight="normal" fill="#111" stroke="#111" stroke-width="0.2" >15</text>
<text transform="translate(15.10,163.80) rotate(-90) scale(0.78,1)" font-size="8.2" text-anchor="middle" fill="#111" stroke="#111" stroke-width="0.32">DAI</text>
<text transform="translate(91.15,232.60) scale(0.79,1)" font-size="8.2" text-anchor="middle" fill="#111" stroke="#111" stroke-width="0.32">Time (day)</text>
<line x1="54.25" y1="187.65" x2="54.25" y2="189.72" stroke="#111" stroke-width="0.9" />
<line x1="52.85" y1="187.65" x2="55.65" y2="187.65" stroke="#111" stroke-width="0.9" />
<line x1="62.10" y1="187.96" x2="62.10" y2="190.55" stroke="#111" stroke-width="0.9" />
<line x1="60.70" y1="187.96" x2="63.50" y2="187.96" stroke="#111" stroke-width="0.9" />
<line x1="69.95" y1="189.72" x2="69.95" y2="192.31" stroke="#111" stroke-width="0.9" />
<line x1="68.55" y1="189.72" x2="71.35" y2="189.72" stroke="#111" stroke-width="0.9" />
<line x1="77.80" y1="189.21" x2="77.80" y2="192.31" stroke="#111" stroke-width="0.9" />
<line x1="76.40" y1="189.21" x2="79.20" y2="189.21" stroke="#111" stroke-width="0.9" />
<line x1="85.65" y1="177.10" x2="85.65" y2="179.17" stroke="#111" stroke-width="0.9" />
<line x1="84.25" y1="177.10" x2="87.05" y2="177.10" stroke="#111" stroke-width="0.9" />
<line x1="93.50" y1="171.40" x2="93.50" y2="174.51" stroke="#111" stroke-width="0.9" />
<line x1="92.10" y1="171.40" x2="94.90" y2="171.40" stroke="#111" stroke-width="0.9" />
<line x1="101.35" y1="177.10" x2="101.35" y2="182.27" stroke="#111" stroke-width="0.9" />
<line x1="99.95" y1="177.10" x2="102.75" y2="177.10" stroke="#111" stroke-width="0.9" />
<line x1="109.20" y1="173.47" x2="109.20" y2="176.58" stroke="#111" stroke-width="0.9" />
<line x1="107.80" y1="173.47" x2="110.60" y2="173.47" stroke="#111" stroke-width="0.9" />
<line x1="117.05" y1="181.65" x2="117.05" y2="186.31" stroke="#111" stroke-width="0.9" />
<line x1="115.65" y1="181.65" x2="118.45" y2="181.65" stroke="#111" stroke-width="0.9" />
<line x1="124.90" y1="190.76" x2="124.90" y2="192.83" stroke="#111" stroke-width="0.9" />
<line x1="123.50" y1="190.76" x2="126.30" y2="190.76" stroke="#111" stroke-width="0.9" />
<line x1="132.75" y1="192.31" x2="132.75" y2="194.38" stroke="#111" stroke-width="0.9" />
<line x1="131.35" y1="192.31" x2="134.15" y2="192.31" stroke="#111" stroke-width="0.9" />
<line x1="140.60" y1="192.31" x2="140.60" y2="194.38" stroke="#111" stroke-width="0.9" />
<line x1="139.20" y1="192.31" x2="142.00" y2="192.31" stroke="#111" stroke-width="0.9" />
<line x1="148.45" y1="191.59" x2="148.45" y2="193.66" stroke="#111" stroke-width="0.9" />
<line x1="147.05" y1="191.59" x2="149.85" y2="191.59" stroke="#111" stroke-width="0.9" />
<line x1="54.25" y1="189.21" x2="54.25" y2="191.28" stroke="#111" stroke-width="0.9" />
<line x1="52.85" y1="189.21" x2="55.65" y2="189.21" stroke="#111" stroke-width="0.9" />
<line x1="62.10" y1="190.45" x2="62.10" y2="192.52" stroke="#111" stroke-width="0.9" />
<line x1="60.70" y1="190.45" x2="63.50" y2="190.45" stroke="#111" stroke-width="0.9" />
<line x1="69.95" y1="192.31" x2="69.95" y2="194.38" stroke="#111" stroke-width="0.9" />
<line x1="68.55" y1="192.31" x2="71.35" y2="192.31" stroke="#111" stroke-width="0.9" />
<line x1="77.80" y1="189.21" x2="77.80" y2="191.28" stroke="#111" stroke-width="0.9" />
<line x1="76.40" y1="189.21" x2="79.20" y2="189.21" stroke="#111" stroke-width="0.9" />
<line x1="85.65" y1="177.61" x2="85.65" y2="179.68" stroke="#111" stroke-width="0.9" />
<line x1="84.25" y1="177.61" x2="87.05" y2="177.61" stroke="#111" stroke-width="0.9" />
<line x1="93.50" y1="175.54" x2="93.50" y2="177.61" stroke="#111" stroke-width="0.9" />
<line x1="92.10" y1="175.54" x2="94.90" y2="175.54" stroke="#111" stroke-width="0.9" />
<line x1="101.35" y1="178.03" x2="101.35" y2="180.10" stroke="#111" stroke-width="0.9" />
<line x1="99.95" y1="178.03" x2="102.75" y2="178.03" stroke="#111" stroke-width="0.9" />
<line x1="109.20" y1="173.68" x2="109.20" y2="175.75" stroke="#111" stroke-width="0.9" />
<line x1="107.80" y1="173.68" x2="110.60" y2="173.68" stroke="#111" stroke-width="0.9" />
<line x1="117.05" y1="184.03" x2="117.05" y2="186.10" stroke="#111" stroke-width="0.9" />
<line x1="115.65" y1="184.03" x2="118.45" y2="184.03" stroke="#111" stroke-width="0.9" />
<line x1="124.90" y1="190.34" x2="124.90" y2="192.41" stroke="#111" stroke-width="0.9" />
<line x1="123.50" y1="190.34" x2="126.30" y2="190.34" stroke="#111" stroke-width="0.9" />
<line x1="132.75" y1="192.62" x2="132.75" y2="194.69" stroke="#111" stroke-width="0.9" />
<line x1="131.35" y1="192.62" x2="134.15" y2="192.62" stroke="#111" stroke-width="0.9" />
<line x1="140.60" y1="192.62" x2="140.60" y2="194.69" stroke="#111" stroke-width="0.9" />
<line x1="139.20" y1="192.62" x2="142.00" y2="192.62" stroke="#111" stroke-width="0.9" />
<line x1="148.45" y1="194.69" x2="148.45" y2="196.76" stroke="#111" stroke-width="0.9" />
<line x1="147.05" y1="194.69" x2="149.85" y2="194.69" stroke="#111" stroke-width="0.9" />
<line x1="30.70" y1="200.38" x2="30.70" y2="201.42" stroke="#111" stroke-width="0.9" />
<line x1="29.30" y1="200.38" x2="32.10" y2="200.38" stroke="#111" stroke-width="0.9" />
<line x1="38.55" y1="195.42" x2="38.55" y2="196.45" stroke="#111" stroke-width="0.9" />
<line x1="37.15" y1="195.42" x2="39.95" y2="195.42" stroke="#111" stroke-width="0.9" />
<line x1="46.40" y1="190.76" x2="46.40" y2="192.83" stroke="#111" stroke-width="0.9" />
<line x1="45.00" y1="190.76" x2="47.80" y2="190.76" stroke="#111" stroke-width="0.9" />
<line x1="54.25" y1="172.44" x2="54.25" y2="176.58" stroke="#111" stroke-width="0.9" />
<line x1="52.85" y1="172.44" x2="55.65" y2="172.44" stroke="#111" stroke-width="0.9" />
<line x1="62.10" y1="164.37" x2="62.10" y2="169.54" stroke="#111" stroke-width="0.9" />
<line x1="60.70" y1="164.37" x2="63.50" y2="164.37" stroke="#111" stroke-width="0.9" />
<line x1="69.95" y1="159.71" x2="69.95" y2="163.33" stroke="#111" stroke-width="0.9" />
<line x1="68.55" y1="159.71" x2="71.35" y2="159.71" stroke="#111" stroke-width="0.9" />
<line x1="77.80" y1="155.05" x2="77.80" y2="158.16" stroke="#111" stroke-width="0.9" />
<line x1="76.40" y1="155.05" x2="79.20" y2="155.05" stroke="#111" stroke-width="0.9" />
<line x1="85.65" y1="147.29" x2="85.65" y2="150.39" stroke="#111" stroke-width="0.9" />
<line x1="84.25" y1="147.29" x2="87.05" y2="147.29" stroke="#111" stroke-width="0.9" />
<line x1="93.50" y1="145.84" x2="93.50" y2="148.94" stroke="#111" stroke-width="0.9" />
<line x1="92.10" y1="145.84" x2="94.90" y2="145.84" stroke="#111" stroke-width="0.9" />
<line x1="101.35" y1="143.67" x2="101.35" y2="146.77" stroke="#111" stroke-width="0.9" />
<line x1="99.95" y1="143.67" x2="102.75" y2="143.67" stroke="#111" stroke-width="0.9" />
<line x1="109.20" y1="145.53" x2="109.20" y2="148.63" stroke="#111" stroke-width="0.9" />
<line x1="107.80" y1="145.53" x2="110.60" y2="145.53" stroke="#111" stroke-width="0.9" />
<line x1="117.05" y1="149.67" x2="117.05" y2="153.29" stroke="#111" stroke-width="0.9" />
<line x1="115.65" y1="149.67" x2="118.45" y2="149.67" stroke="#111" stroke-width="0.9" />
<line x1="124.90" y1="154.84" x2="124.90" y2="161.05" stroke="#111" stroke-width="0.9" />
<line x1="123.50" y1="154.84" x2="126.30" y2="154.84" stroke="#111" stroke-width="0.9" />
<line x1="132.75" y1="163.12" x2="132.75" y2="167.26" stroke="#111" stroke-width="0.9" />
<line x1="131.35" y1="163.12" x2="134.15" y2="163.12" stroke="#111" stroke-width="0.9" />
<line x1="140.60" y1="171.92" x2="140.60" y2="175.03" stroke="#111" stroke-width="0.9" />
<line x1="139.20" y1="171.92" x2="142.00" y2="171.92" stroke="#111" stroke-width="0.9" />
<line x1="148.45" y1="175.03" x2="148.45" y2="178.13" stroke="#111" stroke-width="0.9" />
<line x1="147.05" y1="175.03" x2="149.85" y2="175.03" stroke="#111" stroke-width="0.9" />
<line x1="30.70" y1="199.87" x2="30.70" y2="202.45" stroke="#111" stroke-width="0.9" />
<line x1="29.30" y1="199.87" x2="32.10" y2="199.87" stroke="#111" stroke-width="0.9" />
<line x1="38.55" y1="197.49" x2="38.55" y2="198.52" stroke="#111" stroke-width="0.9" />
<line x1="37.15" y1="197.49" x2="39.95" y2="197.49" stroke="#111" stroke-width="0.9" />
<line x1="46.40" y1="193.66" x2="46.40" y2="194.69" stroke="#111" stroke-width="0.9" />
<line x1="45.00" y1="193.66" x2="47.80" y2="193.66" stroke="#111" stroke-width="0.9" />
<line x1="54.25" y1="178.86" x2="54.25" y2="181.96" stroke="#111" stroke-width="0.9" />
<line x1="52.85" y1="178.86" x2="55.65" y2="178.86" stroke="#111" stroke-width="0.9" />
<line x1="62.10" y1="170.78" x2="62.10" y2="173.89" stroke="#111" stroke-width="0.9" />
<line x1="60.70" y1="170.78" x2="63.50" y2="170.78" stroke="#111" stroke-width="0.9" />
<line x1="69.95" y1="167.99" x2="69.95" y2="171.09" stroke="#111" stroke-width="0.9" />
<line x1="68.55" y1="167.99" x2="71.35" y2="167.99" stroke="#111" stroke-width="0.9" />
<line x1="77.80" y1="155.05" x2="77.80" y2="158.16" stroke="#111" stroke-width="0.9" />
<line x1="76.40" y1="155.05" x2="79.20" y2="155.05" stroke="#111" stroke-width="0.9" />
<line x1="85.65" y1="146.25" x2="85.65" y2="149.36" stroke="#111" stroke-width="0.9" />
<line x1="84.25" y1="146.25" x2="87.05" y2="146.25" stroke="#111" stroke-width="0.9" />
<line x1="93.50" y1="147.39" x2="93.50" y2="150.50" stroke="#111" stroke-width="0.9" />
<line x1="92.10" y1="147.39" x2="94.90" y2="147.39" stroke="#111" stroke-width="0.9" />
<line x1="101.35" y1="147.39" x2="101.35" y2="150.50" stroke="#111" stroke-width="0.9" />
<line x1="99.95" y1="147.39" x2="102.75" y2="147.39" stroke="#111" stroke-width="0.9" />
<line x1="109.20" y1="143.15" x2="109.20" y2="146.25" stroke="#111" stroke-width="0.9" />
<line x1="107.80" y1="143.15" x2="110.60" y2="143.15" stroke="#111" stroke-width="0.9" />
<line x1="117.05" y1="150.19" x2="117.05" y2="153.29" stroke="#111" stroke-width="0.9" />
<line x1="115.65" y1="150.19" x2="118.45" y2="150.19" stroke="#111" stroke-width="0.9" />
<line x1="124.90" y1="155.57" x2="124.90" y2="158.67" stroke="#111" stroke-width="0.9" />
<line x1="123.50" y1="155.57" x2="126.30" y2="155.57" stroke="#111" stroke-width="0.9" />
<line x1="132.75" y1="167.99" x2="132.75" y2="171.09" stroke="#111" stroke-width="0.9" />
<line x1="131.35" y1="167.99" x2="134.15" y2="167.99" stroke="#111" stroke-width="0.9" />
<line x1="140.60" y1="172.33" x2="140.60" y2="175.44" stroke="#111" stroke-width="0.9" />
<line x1="139.20" y1="172.33" x2="142.00" y2="172.33" stroke="#111" stroke-width="0.9" />
<line x1="148.45" y1="169.85" x2="148.45" y2="173.47" stroke="#111" stroke-width="0.9" />
<line x1="147.05" y1="169.85" x2="149.85" y2="169.85" stroke="#111" stroke-width="0.9" />
<polyline points="30.70,206.80 38.55,198.00 46.40,194.38 54.25,189.72 62.10,190.55 69.95,192.31 77.80,192.31 85.65,179.17 93.50,174.51 101.35,182.27 109.20,176.58 117.05,186.31 124.90,192.83 132.75,194.38 140.60,194.38 148.45,193.66" fill="none" stroke="#5a2b80" stroke-width="1.3" stroke-linejoin="round" />
<circle cx="30.70" cy="206.80" r="1.23" fill="#cbb9dc" stroke="#5a2b80" stroke-width="1.1"/>
<circle cx="38.55" cy="198.00" r="1.23" fill="#cbb9dc" stroke="#5a2b80" stroke-width="1.1"/>
<circle cx="46.40" cy="194.38" r="1.23" fill="#cbb9dc" stroke="#5a2b80" stroke-width="1.1"/>
<circle cx="54.25" cy="189.72" r="1.23" fill="#cbb9dc" stroke="#5a2b80" stroke-width="1.1"/>
<circle cx="62.10" cy="190.55" r="1.23" fill="#cbb9dc" stroke="#5a2b80" stroke-width="1.1"/>
<circle cx="69.95" cy="192.31" r="1.23" fill="#cbb9dc" stroke="#5a2b80" stroke-width="1.1"/>
<circle cx="77.80" cy="192.31" r="1.23" fill="#cbb9dc" stroke="#5a2b80" stroke-width="1.1"/>
<circle cx="85.65" cy="179.17" r="1.23" fill="#cbb9dc" stroke="#5a2b80" stroke-width="1.1"/>
<circle cx="93.50" cy="174.51" r="1.23" fill="#cbb9dc" stroke="#5a2b80" stroke-width="1.1"/>
<circle cx="101.35" cy="182.27" r="1.23" fill="#cbb9dc" stroke="#5a2b80" stroke-width="1.1"/>
<circle cx="109.20" cy="176.58" r="1.23" fill="#cbb9dc" stroke="#5a2b80" stroke-width="1.1"/>
<circle cx="117.05" cy="186.31" r="1.23" fill="#cbb9dc" stroke="#5a2b80" stroke-width="1.1"/>
<circle cx="124.90" cy="192.83" r="1.23" fill="#cbb9dc" stroke="#5a2b80" stroke-width="1.1"/>
<circle cx="132.75" cy="194.38" r="1.23" fill="#cbb9dc" stroke="#5a2b80" stroke-width="1.1"/>
<circle cx="140.60" cy="194.38" r="1.23" fill="#cbb9dc" stroke="#5a2b80" stroke-width="1.1"/>
<circle cx="148.45" cy="193.66" r="1.23" fill="#cbb9dc" stroke="#5a2b80" stroke-width="1.1"/>
<polyline points="38.55,198.00 46.40,194.38 54.25,191.28 62.10,192.52 69.95,194.38 77.80,191.28 85.65,179.68 93.50,177.61 101.35,180.10 109.20,175.75 117.05,186.10 124.90,192.41 132.75,194.69 140.60,194.69 148.45,196.76" fill="none" stroke="#62b53e" stroke-width="1.3" stroke-linejoin="round" />
<polygon points="38.55,196.20 36.75,199.44 40.35,199.44" fill="#62b53e"/>
<polygon points="46.40,192.58 44.60,195.82 48.20,195.82" fill="#62b53e"/>
<polygon points="54.25,189.47 52.45,192.72 56.05,192.72" fill="#62b53e"/>
<polygon points="62.10,190.72 60.30,193.96 63.90,193.96" fill="#62b53e"/>
<polygon points="69.95,192.58 68.15,195.82 71.75,195.82" fill="#62b53e"/>
<polygon points="77.80,189.47 76.00,192.72 79.60,192.72" fill="#62b53e"/>
<polygon points="85.65,177.88 83.85,181.12 87.45,181.12" fill="#62b53e"/>
<polygon points="93.50,175.81 91.70,179.05 95.30,179.05" fill="#62b53e"/>
<polygon points="101.35,178.30 99.55,181.54 103.15,181.54" fill="#62b53e"/>
<polygon points="109.20,173.95 107.40,177.19 111.00,177.19" fill="#62b53e"/>
<polygon points="117.05,184.30 115.25,187.54 118.85,187.54" fill="#62b53e"/>
<polygon points="124.90,190.61 123.10,193.85 126.70,193.85" fill="#62b53e"/>
<polygon points="132.75,192.89 130.95,196.13 134.55,196.13" fill="#62b53e"/>
<polygon points="140.60,192.89 138.80,196.13 142.40,196.13" fill="#62b53e"/>
<polygon points="148.45,194.96 146.65,198.20 150.25,198.20" fill="#62b53e"/>
<polyline points="30.70,201.42 38.55,196.45 46.40,192.83 54.25,176.58 62.10,169.54 69.95,163.33 77.80,158.16 85.65,150.39 93.50,148.94 101.35,146.77 109.20,148.63 117.05,153.29 124.90,161.05 132.75,167.26 140.60,175.03 148.45,178.13" fill="none" stroke="#1e4a90" stroke-width="1.3" stroke-linejoin="round" />
<circle cx="30.70" cy="201.42" r="1.37" fill="#1e4a90"/>
<circle cx="38.55" cy="196.45" r="1.37" fill="#1e4a90"/>
<circle cx="46.40" cy="192.83" r="1.37" fill="#1e4a90"/>
<circle cx="54.25" cy="176.58" r="1.37" fill="#1e4a90"/>
<circle cx="62.10" cy="169.54" r="1.37" fill="#1e4a90"/>
<circle cx="69.95" cy="163.33" r="1.37" fill="#1e4a90"/>
<circle cx="77.80" cy="158.16" r="1.37" fill="#1e4a90"/>
<circle cx="85.65" cy="150.39" r="1.37" fill="#1e4a90"/>
<circle cx="93.50" cy="148.94" r="1.37" fill="#1e4a90"/>
<circle cx="101.35" cy="146.77" r="1.37" fill="#1e4a90"/>
<circle cx="109.20" cy="148.63" r="1.37" fill="#1e4a90"/>
<circle cx="117.05" cy="153.29" r="1.37" fill="#1e4a90"/>
<circle cx="124.90" cy="161.05" r="1.37" fill="#1e4a90"/>
<circle cx="132.75" cy="167.26" r="1.37" fill="#1e4a90"/>
<circle cx="140.60" cy="175.03" r="1.37" fill="#1e4a90"/>
<circle cx="148.45" cy="178.13" r="1.37" fill="#1e4a90"/>
<polyline points="30.70,202.45 38.55,198.52 46.40,194.69 54.25,181.96 62.10,173.89 69.95,171.09 77.80,158.16 85.65,149.36 93.50,150.50 101.35,150.50 109.20,146.25 117.05,153.29 124.90,158.67 132.75,171.09 140.60,175.44 148.45,173.47" fill="none" stroke="#c4122f" stroke-width="1.3" stroke-linejoin="round" />
<rect x="29.20" y="200.95" width="3.00" height="3.00" fill="#c4122f"/>
<rect x="37.05" y="197.02" width="3.00" height="3.00" fill="#c4122f"/>
<rect x="44.90" y="193.19" width="3.00" height="3.00" fill="#c4122f"/>
<rect x="52.75" y="180.46" width="3.00" height="3.00" fill="#c4122f"/>
<rect x="60.60" y="172.39" width="3.00" height="3.00" fill="#c4122f"/>
<rect x="68.45" y="169.59" width="3.00" height="3.00" fill="#c4122f"/>
<rect x="76.30" y="156.66" width="3.00" height="3.00" fill="#c4122f"/>
<rect x="84.15" y="147.86" width="3.00" height="3.00" fill="#c4122f"/>
<rect x="92.00" y="149.00" width="3.00" height="3.00" fill="#c4122f"/>
<rect x="99.85" y="149.00" width="3.00" height="3.00" fill="#c4122f"/>
<rect x="107.70" y="144.75" width="3.00" height="3.00" fill="#c4122f"/>
<rect x="115.55" y="151.79" width="3.00" height="3.00" fill="#c4122f"/>
<rect x="123.40" y="157.17" width="3.00" height="3.00" fill="#c4122f"/>
<rect x="131.25" y="169.59" width="3.00" height="3.00" fill="#c4122f"/>
<rect x="139.10" y="173.94" width="3.00" height="3.00" fill="#c4122f"/>
<rect x="146.95" y="171.97" width="3.00" height="3.00" fill="#c4122f"/>
<rect x="43.27" y="117.78" width="3.45" height="3.45" fill="#c4122f"/>
<text x="50.00" y="121.90" font-size="7.7" text-anchor="start" font-weight="normal" fill="#111" stroke="#111" stroke-width="0.2" >PBS</text>
<circle cx="72.00" cy="119.50" r="1.62" fill="#1e4a90"/>
<text x="76.75" y="121.90" font-size="7.7" text-anchor="start" font-weight="normal" fill="#111" stroke="#111" stroke-width="0.2" >IV</text>
<polygon points="45.00,128.10 42.30,132.96 47.70,132.96" fill="#62b53e"/>
<text x="50.00" y="132.90" font-size="7.7" text-anchor="start" font-weight="normal" fill="#111" stroke="#111" stroke-width="0.2" >SC</text>
<circle cx="72.00" cy="130.60" r="2.2" fill="#5a2b80"/><circle cx="72.00" cy="130.60" r="0.8" fill="#a58cc0"/>
<text x="76.75" y="132.90" font-size="7.7" text-anchor="start" font-weight="normal" fill="#111" stroke="#111" stroke-width="0.2" >IP</text>
<polyline points="151.00,177.80 152.40,177.80 152.40,193.60 151.00,193.60" fill="none" stroke="#1a1a1a" stroke-width="0.8" stroke-linejoin="round" />
<text x="151.90" y="180.90" font-size="6.5" text-anchor="start" font-weight="normal" fill="#111" stroke="#111" stroke-width="0.2" >***</text>
<polyline points="158.30,179.20 162.20,179.20 162.20,198.60 158.30,198.60" fill="none" stroke="#1a1a1a" stroke-width="0.8" stroke-linejoin="round" />
<text x="162.80" y="183.60" font-size="6.5" text-anchor="start" font-weight="normal" fill="#111" stroke="#111" stroke-width="0.2" >****</text>
<text x="184.80" y="103.40" font-size="10.6" text-anchor="start" font-weight="bold" fill="#000"  stroke="#000" stroke-width="0.35">D</text>
<text x="225.70" y="117.40" font-size="7.6" text-anchor="middle" font-weight="normal" fill="#111" stroke="#111" stroke-width="0.2" >SC</text>
<text x="293.60" y="117.40" font-size="7.6" text-anchor="middle" font-weight="normal" fill="#111" stroke="#111" stroke-width="0.2" >IP</text>
<text x="225.70" y="194.00" font-size="7.6" text-anchor="middle" font-weight="normal" fill="#111" stroke="#111" stroke-width="0.2" >PBS</text>
<text x="293.60" y="194.00" font-size="7.6" text-anchor="middle" font-weight="normal" fill="#111" stroke="#111" stroke-width="0.2" >IV</text>
<defs>
<filter id="bl" x="-5%" y="-5%" width="110%" height="110%"><feGaussianBlur stdDeviation="0.5"/></filter>
<filter id="bl3" x="-5%" y="-5%" width="110%" height="110%"><feGaussianBlur stdDeviation="0.3"/></filter>
<filter id="nzD" x="0" y="0" width="100%" height="100%" color-interpolation-filters="sRGB">
<feTurbulence type="fractalNoise" baseFrequency="0.55" numOctaves="3" seed="7"/>
<feColorMatrix type="matrix" values="0 0 0 0 0.18  0 0 0 0 0.13  0 0 0 0 0.3  1.7 0 0 0 -0.5"/>
</filter>
<filter id="nzL" x="0" y="0" width="100%" height="100%" color-interpolation-filters="sRGB">
<feTurbulence type="fractalNoise" baseFrequency="0.6" numOctaves="3" seed="23"/>
<feColorMatrix type="matrix" values="0 0 0 0 0.86  0 0 0 0 0.93  0 0 0 0 0.92  0 1.9 0 0 -0.68"/>
</filter>
<filter id="nzP" x="0" y="0" width="100%" height="100%" color-interpolation-filters="sRGB">
<feTurbulence type="fractalNoise" baseFrequency="0.65" numOctaves="3" seed="41"/>
<feColorMatrix type="matrix" values="0 0 0 0 0.78  0 0 0 0 0.25  0 0 0 0 0.5  0 0 1.9 0 -0.68"/>
</filter>
<filter id="tis" x="-2%" y="-2%" width="104%" height="104%" color-interpolation-filters="sRGB">
<feGaussianBlur in="SourceGraphic" stdDeviation="0.45" result="b"/>
<feTurbulence type="fractalNoise" baseFrequency="0.6" numOctaves="3" seed="9" result="t"/>
<feColorMatrix in="t" type="matrix" values="0 0 0 0 0.24  0 0 0 0 0.15  0 0 0 0 0.36  1.2 0 0 0 -0.46" result="d"/>
<feColorMatrix in="t" type="matrix" values="0 0 0 0 0.62  0 0 0 0 0.8  0 0 0 0 0.74  0 1.6 0 0 -0.6" result="l"/>
<feMerge result="n"><feMergeNode in="d"/><feMergeNode in="l"/></feMerge>
<feGaussianBlur in="n" stdDeviation="0.2" result="nb"/>
<feComposite in="nb" in2="b" operator="in" result="nc"/>
<feMerge><feMergeNode in="b"/><feMergeNode in="nc"/></feMerge>
</filter>
<filter id="tis2" x="-2%" y="-2%" width="104%" height="104%" color-interpolation-filters="sRGB">
<feGaussianBlur in="SourceGraphic" stdDeviation="0.45" result="b"/>
<feTurbulence type="fractalNoise" baseFrequency="0.55" numOctaves="3" seed="31" result="t"/>
<feColorMatrix in="t" type="matrix" values="0 0 0 0 0.26  0 0 0 0 0.15  0 0 0 0 0.33  1.1 0 0 0 -0.36" result="d"/>
<feColorMatrix in="t" type="matrix" values="0 0 0 0 0.8  0 0 0 0 0.8  0 0 0 0 0.85  0 1.2 0 0 -0.42" result="l"/>
<feMerge result="n0"><feMergeNode in="d"/><feMergeNode in="l"/></feMerge>
<feGaussianBlur in="n0" stdDeviation="0.35" result="n"/>
<feComposite in="n" in2="b" operator="in" result="nc"/>
<feMerge><feMergeNode in="b"/><feMergeNode in="nc"/></feMerge>
</filter>
<clipPath id="cSC"><rect x="0" y="0" width="60.6" height="53.6"/></clipPath>
<clipPath id="cIP"><rect x="0" y="0" width="60.8" height="53.6"/></clipPath>
<clipPath id="cPBS"><rect x="0" y="0" width="60.2" height="56.1"/></clipPath>
<clipPath id="cIV"><rect x="0" y="0" width="63.5" height="56.6"/></clipPath>
</defs>
<g transform="translate(196.1,119.1)" clip-path="url(#cSC)">
<rect x="0" y="0" width="60.6" height="53.6" fill="#9acea5"/>
<g filter="url(#bl)">
<path d="M-1.0,27.5 C0.0,26.9 3.1,31.6 5.0,33.5 C6.9,35.4 7.5,37.0 10.6,38.7 C13.7,40.4 19.1,42.5 23.3,43.5 C27.5,44.5 31.8,44.8 36.0,44.4 C40.2,44.0 44.5,43.3 48.8,41.3 C53.0,39.3 59.4,31.8 61.5,32.5 C63.6,33.2 63.6,42.5 61.5,45.5 C59.4,48.5 53.0,49.8 48.8,50.8 C44.5,51.8 40.2,51.9 36.0,51.8 C31.8,51.7 27.5,51.2 23.3,50.3 C19.1,49.4 14.6,48.4 10.6,46.2 C6.5,44.0 0.9,40.1 -1.0,37.0 C-2.9,33.9 -2.0,28.1 -1.0,27.5Z" fill="#ab8aa2"/>
<path d="M-1.0,30.0 C0.2,31.2 3.8,35.5 6.0,37.5 C8.2,39.5 9.1,40.5 12.0,42.0 C14.9,43.5 19.3,45.4 23.3,46.3 C27.3,47.2 31.8,47.6 36.0,47.4 C40.2,47.2 44.5,46.6 48.8,45.0 C53.0,43.4 59.4,39.2 61.5,38.0" fill="none" stroke="#8f7392" stroke-width="1.4" stroke-opacity="0.55"/>
<path d="M-1,45.5 C5,46.5 10,48 16,49" fill="none" stroke="#a38aa3" stroke-width="1.5"/>
<path d="M-1,-1 L6,-1 L3,8 L-1,14 Z" fill="#8f8499"/>
</g>
<rect x="0" y="0" width="60.6" height="53.6" filter="url(#nzD)" opacity="0.22"/>
<g filter="url(#tis)">
<path d="M3.5,-1.0 C3.5,0.8 2.9,6.0 3.2,10.0 C3.5,14.0 3.8,19.1 5.5,23.0 C7.2,26.9 10.2,31.0 13.2,33.6 C16.2,36.2 19.7,37.6 23.3,38.7 C26.9,39.8 31.0,40.2 34.8,40.2 C38.6,40.2 42.8,39.8 46.2,38.7 C49.6,37.6 52.6,35.9 55.2,33.6 C57.8,31.3 60.9,26.4 62.0,25.0 L62,-1 Z" fill="#807b98"/>
<path d="M5.0,-1.0 C5.0,0.8 4.4,6.1 4.7,10.0 C5.0,13.9 5.4,18.8 7.0,22.5 C8.6,26.2 11.4,29.8 14.2,32.3 C17.0,34.8 20.2,36.1 23.6,37.2 C27.0,38.3 31.1,38.7 34.8,38.7 C38.5,38.7 42.6,38.3 45.8,37.2 C49.0,36.1 51.5,34.7 54.2,32.3 C56.9,29.9 60.7,24.6 62.0,23.0 L62,-1 Z" fill="#6a5f85"/>
</g>
<g filter="url(#bl3)" stroke="#9cc4ae" stroke-linecap="round">
<line x1="43.0" y1="4.2" x2="57.7" y2="-7.3" stroke-width="0.93" stroke-opacity="0.93"/>
<line x1="47.9" y1="2.1" x2="59.9" y2="-5.6" stroke-width="0.81" stroke-opacity="0.93"/>
<line x1="43.5" y1="5.9" x2="60.7" y2="-2.9" stroke-width="0.81" stroke-opacity="0.65"/>
<line x1="47.6" y1="5.1" x2="61.6" y2="-0.5" stroke-width="0.73" stroke-opacity="0.66"/>
<line x1="43.2" y1="7.8" x2="61.8" y2="2.4" stroke-width="0.93" stroke-opacity="0.61"/>
<line x1="46.4" y1="7.9" x2="62.4" y2="4.9" stroke-width="0.95" stroke-opacity="0.63"/>
<line x1="42.9" y1="9.2" x2="60.8" y2="7.4" stroke-width="0.75" stroke-opacity="0.93"/>
<line x1="47.2" y1="9.8" x2="61.9" y2="9.7" stroke-width="0.98" stroke-opacity="0.83"/>
<line x1="42.6" y1="10.6" x2="61.4" y2="12.3" stroke-width="0.78" stroke-opacity="0.62"/>
<line x1="46.0" y1="11.8" x2="60.9" y2="14.4" stroke-width="0.86" stroke-opacity="0.55"/>
<line x1="42.3" y1="11.9" x2="60.2" y2="16.7" stroke-width="0.94" stroke-opacity="0.74"/>
<line x1="47.0" y1="14.2" x2="58.7" y2="18.5" stroke-width="0.67" stroke-opacity="0.94"/>
<line x1="42.8" y1="13.4" x2="57.6" y2="20.2" stroke-width="0.66" stroke-opacity="0.87"/>
<line x1="46.7" y1="16.4" x2="58.0" y2="22.9" stroke-width="0.67" stroke-opacity="0.62"/>
<line x1="42.3" y1="14.9" x2="55.4" y2="24.3" stroke-width="0.98" stroke-opacity="0.93"/>
<line x1="45.8" y1="18.9" x2="54.4" y2="26.2" stroke-width="0.92" stroke-opacity="0.59"/>
<line x1="42.6" y1="17.3" x2="52.4" y2="27.5" stroke-width="0.66" stroke-opacity="0.93"/>
<line x1="44.8" y1="21.5" x2="51.2" y2="29.3" stroke-width="0.97" stroke-opacity="0.69"/>
<line x1="41.6" y1="19.3" x2="49.6" y2="31.3" stroke-width="0.76" stroke-opacity="0.62"/>
<line x1="43.1" y1="23.8" x2="47.5" y2="31.8" stroke-width="1.00" stroke-opacity="0.61"/>
<line x1="41.1" y1="22.6" x2="45.8" y2="33.1" stroke-width="0.79" stroke-opacity="0.64"/>
<line x1="42.1" y1="29.3" x2="43.7" y2="34.1" stroke-width="0.80" stroke-opacity="0.57"/>
<line x1="39.1" y1="25.7" x2="41.3" y2="34.9" stroke-width="0.94" stroke-opacity="0.60"/>
<line x1="36.2" y1="30.1" x2="36.4" y2="35.8" stroke-width="0.70" stroke-opacity="0.89"/>
<line x1="33.0" y1="26.4" x2="31.7" y2="35.7" stroke-width="0.82" stroke-opacity="0.84"/>
<line x1="31.0" y1="28.6" x2="29.3" y2="35.3" stroke-width="0.70" stroke-opacity="0.70"/>
<line x1="30.7" y1="23.7" x2="26.9" y2="34.2" stroke-width="0.82" stroke-opacity="0.69"/>
<line x1="28.3" y1="26.0" x2="25.1" y2="33.2" stroke-width="0.95" stroke-opacity="0.69"/>
<line x1="29.1" y1="21.1" x2="22.8" y2="32.3" stroke-width="0.88" stroke-opacity="0.85"/>
<line x1="25.3" y1="24.7" x2="20.4" y2="31.8" stroke-width="0.82" stroke-opacity="0.86"/>
<line x1="27.3" y1="19.7" x2="19.2" y2="29.3" stroke-width="0.88" stroke-opacity="0.78"/>
<line x1="22.9" y1="22.7" x2="16.7" y2="28.9" stroke-width="0.89" stroke-opacity="0.74"/>
<line x1="25.2" y1="18.5" x2="15.8" y2="26.4" stroke-width="0.77" stroke-opacity="0.81"/>
<line x1="19.8" y1="20.6" x2="13.5" y2="24.9" stroke-width="0.95" stroke-opacity="0.90"/>
<line x1="23.2" y1="16.8" x2="13.1" y2="22.3" stroke-width="0.83" stroke-opacity="0.76"/>
<line x1="17.7" y1="17.9" x2="12.0" y2="20.4" stroke-width="0.82" stroke-opacity="0.83"/>
<line x1="21.7" y1="14.6" x2="9.6" y2="18.6" stroke-width="0.92" stroke-opacity="0.78"/>
<line x1="16.8" y1="14.3" x2="9.6" y2="16.0" stroke-width="0.92" stroke-opacity="0.80"/>
<line x1="21.1" y1="11.9" x2="8.1" y2="13.7" stroke-width="0.80" stroke-opacity="0.81"/>
<line x1="15.0" y1="11.0" x2="8.5" y2="11.3" stroke-width="0.66" stroke-opacity="0.74"/>
<line x1="20.0" y1="9.4" x2="7.3" y2="8.9" stroke-width="0.76" stroke-opacity="0.62"/>
<line x1="15.2" y1="7.5" x2="7.9" y2="6.6" stroke-width="0.78" stroke-opacity="0.79"/>
<line x1="18.2" y1="6.2" x2="8.8" y2="4.2" stroke-width="0.65" stroke-opacity="0.71"/>
<line x1="13.1" y1="3.1" x2="7.6" y2="1.4" stroke-width="0.94" stroke-opacity="0.70"/>
<line x1="16.9" y1="2.5" x2="8.1" y2="-1.0" stroke-width="0.84" stroke-opacity="0.69"/>
<line x1="16.3" y1="-2.1" x2="10.7" y2="-5.6" stroke-width="0.78" stroke-opacity="0.61"/>
</g>
<g filter="url(#bl)">
<path d="M14.4,-1.0 L17.0,5.5 L21.0,6.0 L23.3,10.6 L29.7,17.0 L34.8,23.3 L36.3,29.7 L38.0,23.3 L42.0,18.3 L40.5,13.2 L42.0,5.5 L41.5,-1.0Z" fill="#9bd0a6"/>
</g>
<rect x="0" y="0" width="60.6" height="53.6" filter="url(#nzD)" opacity="0.12"/>
<line x1="54" y1="51" x2="58.5" y2="51" stroke="#333" stroke-width="0.5"/>
</g>
<g transform="translate(264.1,119.1)" clip-path="url(#cIP)">
<rect x="0" y="0" width="60.8" height="53.6" fill="#ab8fa2"/>
<g filter="url(#bl)">
<path d="M-1,-1 L30,-1 L8,23 L-1,40 Z" fill="#94808f"/>
<path d="M40,30 L62,12 L62,40 L45,50 Z" fill="#ab8aa2"/>
</g>
<rect x="0" y="0" width="60.8" height="53.6" filter="url(#nzD)" opacity="0.18"/>
<rect x="0" y="0" width="60.8" height="53.6" filter="url(#nzP)" opacity="0.1"/>
<g filter="url(#bl)">
<path d="M-1,-1 L3,-1 L-1,3 Z" fill="#9acea5"/>
<path d="M41,54.5 L47,49 L55,44.5 L62,40 L62,54.5 Z" fill="#9acea5"/>
<path d="M-1,42.5 L4,46.5 L11.5,54.5 L-1,54.5 Z" fill="#a6c6ae"/>
<path d="M14.3,-1.0 C13.7,0.5 11.4,5.3 10.5,8.0 C9.6,10.7 9.0,12.8 8.6,15.3 C8.2,17.8 8.2,20.6 8.3,23.0 C8.5,25.4 8.0,26.7 9.5,29.5 C11.0,32.3 14.3,37.5 17.2,40.0 C20.1,42.5 23.2,44.6 26.7,44.8 C30.2,45.0 34.4,43.4 38.2,41.0 C42.0,38.6 45.6,34.3 49.6,30.5 C53.6,26.7 59.9,20.1 62.0,18.0 L62,-1 Z" fill="#98d0a4"/>
</g>
<g filter="url(#tis)">
<path d="M18.0,-1.0 C17.2,0.8 14.6,6.0 13.5,10.0 C12.4,14.0 11.5,19.5 11.4,23.0 C11.3,26.5 11.7,28.4 13.0,31.0 C14.3,33.6 16.8,36.7 19.0,38.6 C21.2,40.5 23.8,42.2 26.5,42.4 C29.2,42.6 32.4,41.5 35.4,39.8 C38.4,38.1 41.6,35.2 44.6,32.4 C47.6,29.6 51.0,26.4 53.6,23.0 C56.2,19.6 58.6,16.0 60.0,12.0 C61.4,8.0 61.7,1.2 62.0,-1.0 Z" fill="#6a5f85"/>
</g>
<g filter="url(#bl3)" stroke="#9cc8b0" stroke-linecap="round">
<line x1="29.0" y1="1.0" x2="20.4" y2="-0.9" stroke-width="0.60" stroke-opacity="0.59"/>
<line x1="28.1" y1="3.0" x2="19.2" y2="1.0" stroke-width="0.79" stroke-opacity="0.86"/>
<line x1="27.9" y1="5.0" x2="18.9" y2="3.0" stroke-width="0.69" stroke-opacity="0.89"/>
<line x1="26.8" y1="6.9" x2="19.0" y2="5.2" stroke-width="0.78" stroke-opacity="0.64"/>
<line x1="26.8" y1="9.5" x2="18.0" y2="7.5" stroke-width="0.70" stroke-opacity="0.89"/>
<line x1="26.7" y1="11.3" x2="17.7" y2="9.3" stroke-width="0.64" stroke-opacity="0.77"/>
<line x1="26.3" y1="13.4" x2="17.5" y2="11.4" stroke-width="0.85" stroke-opacity="0.55"/>
<line x1="25.8" y1="15.5" x2="17.1" y2="13.5" stroke-width="0.83" stroke-opacity="0.64"/>
<line x1="25.5" y1="17.4" x2="16.8" y2="15.5" stroke-width="0.69" stroke-opacity="0.76"/>
<line x1="24.4" y1="19.5" x2="15.9" y2="17.6" stroke-width="0.82" stroke-opacity="0.59"/>
<line x1="24.3" y1="21.8" x2="15.4" y2="19.8" stroke-width="0.70" stroke-opacity="0.65"/>
<line x1="23.7" y1="23.7" x2="14.8" y2="21.7" stroke-width="0.82" stroke-opacity="0.76"/>
<line x1="23.6" y1="25.5" x2="14.5" y2="23.5" stroke-width="0.87" stroke-opacity="0.86"/>
<line x1="23.4" y1="28.0" x2="14.2" y2="25.9" stroke-width="0.73" stroke-opacity="0.75"/>
<line x1="22.0" y1="30.0" x2="13.5" y2="28.0" stroke-width="0.87" stroke-opacity="0.68"/>
<line x1="56.0" y1="2.2" x2="45.3" y2="-3.3" stroke-width="0.69" stroke-opacity="0.84"/>
<line x1="55.1" y1="3.9" x2="44.8" y2="-1.4" stroke-width="0.73" stroke-opacity="0.65"/>
<line x1="53.9" y1="6.1" x2="43.2" y2="0.6" stroke-width="0.74" stroke-opacity="0.74"/>
<line x1="53.7" y1="8.2" x2="42.3" y2="2.4" stroke-width="0.78" stroke-opacity="0.83"/>
<line x1="53.0" y1="9.9" x2="42.0" y2="4.3" stroke-width="0.84" stroke-opacity="0.78"/>
<line x1="51.4" y1="11.5" x2="41.2" y2="6.2" stroke-width="0.90" stroke-opacity="0.80"/>
<line x1="50.3" y1="13.3" x2="39.6" y2="7.8" stroke-width="0.79" stroke-opacity="0.88"/>
<line x1="50.0" y1="16.0" x2="38.5" y2="10.1" stroke-width="0.88" stroke-opacity="0.60"/>
<line x1="48.7" y1="17.6" x2="37.4" y2="11.8" stroke-width="0.79" stroke-opacity="0.57"/>
<line x1="47.9" y1="19.3" x2="36.5" y2="13.4" stroke-width="0.62" stroke-opacity="0.75"/>
<line x1="46.2" y1="21.2" x2="35.5" y2="15.6" stroke-width="0.73" stroke-opacity="0.66"/>
<line x1="45.7" y1="23.2" x2="35.2" y2="17.8" stroke-width="0.71" stroke-opacity="0.57"/>
<line x1="45.1" y1="25.4" x2="33.9" y2="19.6" stroke-width="0.75" stroke-opacity="0.87"/>
<line x1="43.6" y1="26.9" x2="32.7" y2="21.2" stroke-width="0.77" stroke-opacity="0.64"/>
<line x1="42.7" y1="28.9" x2="31.6" y2="23.2" stroke-width="0.67" stroke-opacity="0.68"/>
<line x1="42.2" y1="31.0" x2="31.1" y2="25.3" stroke-width="0.80" stroke-opacity="0.58"/>
<line x1="41.3" y1="32.9" x2="29.6" y2="26.9" stroke-width="0.78" stroke-opacity="0.63"/>
<line x1="28.4" y1="33.2" x2="32.4" y2="35.3" stroke-width="0.7" stroke-opacity="0.7"/>
<line x1="27.7" y1="33.4" x2="31.2" y2="36.2" stroke-width="0.7" stroke-opacity="0.7"/>
<line x1="27.6" y1="33.7" x2="30.5" y2="36.7" stroke-width="0.7" stroke-opacity="0.7"/>
<line x1="27.1" y1="34.1" x2="29.5" y2="38.6" stroke-width="0.7" stroke-opacity="0.7"/>
<line x1="26.7" y1="34.8" x2="27.6" y2="38.4" stroke-width="0.7" stroke-opacity="0.7"/>
<line x1="26.4" y1="34.8" x2="26.9" y2="39.1" stroke-width="0.7" stroke-opacity="0.7"/>
<line x1="25.8" y1="34.5" x2="25.4" y2="38.8" stroke-width="0.7" stroke-opacity="0.7"/>
<line x1="25.2" y1="34.5" x2="23.7" y2="39.1" stroke-width="0.7" stroke-opacity="0.7"/>
<line x1="24.4" y1="34.4" x2="22.4" y2="37.6" stroke-width="0.7" stroke-opacity="0.7"/>
<line x1="23.9" y1="34.2" x2="21.3" y2="37.1" stroke-width="0.7" stroke-opacity="0.7"/>
<line x1="23.7" y1="33.6" x2="20.5" y2="35.8" stroke-width="0.7" stroke-opacity="0.7"/>
<line x1="23.9" y1="32.9" x2="19.1" y2="35.0" stroke-width="0.7" stroke-opacity="0.7"/>
<line x1="23.8" y1="32.5" x2="19.6" y2="33.4" stroke-width="0.7" stroke-opacity="0.7"/>
</g>
<g filter="url(#bl)">
<path d="M32.4,-1.0 L43.0,-1.0 L38.2,9.5 L35.0,14.0 L31.5,19.0 L29.0,24.5 L27.3,30.5 L25.8,33.5 L25.2,30.0 L26.0,24.5 L26.7,19.0 L28.0,14.0 L29.6,9.5Z" fill="#9cd1a7"/>
</g>
<line x1="54" y1="51" x2="58.5" y2="51" stroke="#333" stroke-width="0.5"/>
</g>
<g transform="translate(195.7,197.3)" clip-path="url(#cPBS)">
<rect x="0" y="0" width="60.2" height="56.1" fill="#b8809c"/>
<g filter="url(#bl)">
<path d="M-1,45 L30,47 L50,40 L62,36 L62,58 L-1,58 Z" fill="#b07896" fill-opacity="0.7"/>
<path d="M40,-1 L62,-1 L62,18 L52,22 L49,12 Z" fill="#a3738f" fill-opacity="0.85"/>
</g>
<rect x="0" y="0" width="60.2" height="56.1" filter="url(#nzD)" opacity="0.15"/>
<rect x="0" y="0" width="60.2" height="56.1" filter="url(#nzP)" opacity="0.1"/>
<rect x="0" y="0" width="60.2" height="56.1" filter="url(#nzL)" opacity="0.25"/>
<g filter="url(#bl)">
<path d="M37.1,-1.0 C37.9,0.2 40.3,3.9 42.1,6.3 C43.9,8.7 47.0,10.5 47.7,13.1 C48.4,15.7 47.0,19.4 46.5,21.7 C46.0,24.0 45.8,24.4 45.0,26.8 C44.2,29.2 43.3,33.8 41.5,36.4 C39.7,39.0 37.0,40.9 34.0,42.2 C31.0,43.5 27.5,44.2 23.7,44.2 C19.9,44.2 15.1,42.7 11.0,42.0 C6.9,41.3 1.0,40.3 -1.0,40.0 L-1,-1 Z" fill="#b9e6c0"/>
</g>
<g filter="url(#tis2)">
<path d="M36.5,-1.0 C37.3,0.2 39.8,4.1 41.5,6.5 C43.2,8.9 46.3,10.7 47.0,13.2 C47.7,15.7 46.2,19.3 45.8,21.5 C45.3,23.7 45.1,24.1 44.3,26.5 C43.5,28.9 42.6,33.3 40.8,35.8 C39.0,38.2 36.4,40.0 33.5,41.2 C30.6,42.4 27.4,43.0 23.7,42.8 C19.9,42.6 14.1,40.8 11.0,39.8 C7.9,38.8 7.0,37.3 5.0,36.5 C3.0,35.7 0.0,35.1 -1.0,34.8 L-1,-1 Z" fill="#7a6b8b"/>
</g>
<g filter="url(#bl)">
<path d="M-1,34.2 C3,35.5 7,37.5 11.5,40 L13,42.6 L6,42.6 L-1,40.8 Z" fill="#baeac0"/>
<path d="M4.5,-1.0 L10.0,8.0 L14.8,13.5 L19.9,19.5 L23.7,25.0 L29.0,27.6 L33.9,28.4 L30.5,24.0 L27.5,20.5 L26.0,15.0 L25.2,9.0 L22.5,4.0 L22.0,-1.0Z" fill="#a6e6ac"/>
<path d="M11,-1 L18,-1 L21.5,8 L24,17 L27.5,24 L23.5,21.5 L17.5,12 Z" fill="#d2f6d6" fill-opacity="0.85"/>
<path d="M61.0,30.0 C60.3,30.7 58.3,32.7 57.0,34.0 C55.7,35.3 54.2,36.5 53.0,38.0 C51.8,39.5 50.8,41.3 50.0,43.0 C49.2,44.7 49.3,46.5 48.5,48.0 C47.7,49.5 46.2,50.5 45.0,52.0 C43.8,53.5 41.7,56.2 41.0,57.0 L61,57 L61,30 Z" fill="#a9e3b2"/>
<circle cx="59.1" cy="43.8" r="0.9" fill="#3a64a8"/>
<circle cx="21.5" cy="45.6" r="1.0" fill="#1a1a1a"/>
</g>
<line x1="53" y1="53.6" x2="57.5" y2="53.6" stroke="#333" stroke-width="0.5"/>
</g>
<g transform="translate(263.1,197)" clip-path="url(#cIV)">
<rect x="0" y="0" width="63.5" height="56.6" fill="#8a72ba"/>
<g filter="url(#bl)">
<path d="M39.6,-1 L64,-1 L64,22 C58,25 50,22 45,17 C41,12 39.6,5 39.6,-1 Z" fill="#6a5ab0"/>
<ellipse cx="30" cy="30" rx="14" ry="9" fill="#9079b8" fill-opacity="0.6"/>
<path d="M17.4,10.1 L18.0,6.0 L21.2,5.5 L25.6,8.8 L32.0,5.6 L35.0,-1.0 L44.5,-1.0 L45.0,4.0 L42.0,9.0 L38.3,12.5 L35.8,15.0 L30.7,16.2 L26.3,21.5 L23.1,23.0 L19.3,15.0Z" fill="#84bee0"/>
<path d="M16,-1 L34,-1 L33.5,5 L29,9 L23,8.2 L17.5,8.5 Z" fill="#cfd9dc"/>
<path d="M2.5,-2.0 C2.3,0.3 1.3,7.7 1.2,12.0 C1.1,16.3 1.1,20.0 2.0,24.0 C2.9,28.0 4.3,32.9 6.5,36.0 C8.7,39.1 12.0,40.9 15.4,42.6 C18.8,44.3 22.9,45.7 26.9,46.0 C30.9,46.3 35.4,45.8 39.6,44.6 C43.8,43.4 48.9,41.2 52.3,39.0 C55.7,36.8 58.0,34.0 60.0,31.5 C62.0,29.0 63.8,25.2 64.5,24.0" fill="none" stroke="#a5c6de" stroke-width="4.0" stroke-opacity="0.92"/>
<path d="M-2.5,14.0 C-2.3,16.3 -2.3,23.9 -1.5,28.0 C-0.7,32.1 0.7,35.5 2.5,38.5 C4.3,41.5 6.9,44.1 9.5,46.0 C12.1,47.9 14.7,48.9 18.0,49.8 C21.3,50.7 25.4,51.6 29.4,51.6 C33.4,51.6 38.2,50.8 42.2,49.6 C46.2,48.4 49.9,46.9 53.6,44.6 C57.3,42.3 62.7,37.4 64.5,36.0" fill="none" stroke="#6644ae" stroke-width="6"/>
<path d="M-1.0,44.5 C0.2,45.6 3.6,49.2 6.5,51.0 C9.4,52.8 13.1,53.9 16.7,55.0 C20.3,56.1 26.1,57.3 28.0,57.8 L-1,57.8 Z" fill="#8ac4e2"/>
<path d="M34.5,57.5 C36.6,56.8 43.6,54.7 47.2,53.2 C50.8,51.8 53.4,50.7 56.2,48.8 C59.0,46.9 62.9,43.0 64.2,41.8 L64.2,57.8 L34.5,57.8 Z" fill="#88c0de"/>
</g>
<rect x="0" y="0" width="63.5" height="56.6" filter="url(#nzD)" opacity="0.2"/>
<rect x="0" y="0" width="63.5" height="56.6" filter="url(#nzL)" opacity="0.5"/>
<line x1="57" y1="54" x2="61" y2="54" stroke="#333" stroke-width="0.5"/>
</g>
<text x="343.30" y="181.00" font-size="10.6" text-anchor="start" font-weight="bold" fill="#000"  stroke="#000" stroke-width="0.35">E</text>
<line x1="374.60" y1="187.50" x2="374.60" y2="263.70" stroke="#1a1a1a" stroke-width="1.15" />
<line x1="374.10" y1="263.20" x2="485.50" y2="263.20" stroke="#1a1a1a" stroke-width="1.15" />
<line x1="371.20" y1="263.20" x2="374.60" y2="263.20" stroke="#1a1a1a" stroke-width="1.1" />
<line x1="371.20" y1="248.56" x2="374.60" y2="248.56" stroke="#1a1a1a" stroke-width="1.1" />
<line x1="371.20" y1="233.92" x2="374.60" y2="233.92" stroke="#1a1a1a" stroke-width="1.1" />
<line x1="371.20" y1="219.28" x2="374.60" y2="219.28" stroke="#1a1a1a" stroke-width="1.1" />
<line x1="371.20" y1="204.64" x2="374.60" y2="204.64" stroke="#1a1a1a" stroke-width="1.1" />
<line x1="371.20" y1="190.00" x2="374.60" y2="190.00" stroke="#1a1a1a" stroke-width="1.1" />
<text transform="translate(369.10,265.80) scale(1.13,1)" font-size="7.4" text-anchor="end" font-weight="normal" fill="#111" stroke="#111" stroke-width="0.2" >0</text>
<text transform="translate(369.10,236.52) scale(1.13,1)" font-size="7.4" text-anchor="end" font-weight="normal" fill="#111" stroke="#111" stroke-width="0.2" >4</text>
<text transform="translate(369.10,207.24) scale(1.13,1)" font-size="7.4" text-anchor="end" font-weight="normal" fill="#111" stroke="#111" stroke-width="0.2" >8</text>
<text transform="translate(369.10,192.60) scale(1.13,1)" font-size="7.4" text-anchor="end" font-weight="normal" fill="#111" stroke="#111" stroke-width="0.2" >10</text>
<line x1="391.50" y1="263.20" x2="391.50" y2="266.20" stroke="#1a1a1a" stroke-width="1.15" />
<text x="393.80" y="275.90" font-size="7.8" text-anchor="middle" font-weight="normal" fill="#111" stroke="#111" stroke-width="0.2" >PBS</text>
<line x1="417.10" y1="263.20" x2="417.10" y2="266.20" stroke="#1a1a1a" stroke-width="1.15" />
<text x="417.20" y="275.90" font-size="7.8" text-anchor="middle" font-weight="normal" fill="#111" stroke="#111" stroke-width="0.2" >IV</text>
<line x1="442.70" y1="263.20" x2="442.70" y2="266.20" stroke="#1a1a1a" stroke-width="1.15" />
<text x="443.10" y="275.90" font-size="7.8" text-anchor="middle" font-weight="normal" fill="#111" stroke="#111" stroke-width="0.2" >SC</text>
<line x1="468.30" y1="263.20" x2="468.30" y2="266.20" stroke="#1a1a1a" stroke-width="1.15" />
<text x="468.70" y="275.90" font-size="7.8" text-anchor="middle" font-weight="normal" fill="#111" stroke="#111" stroke-width="0.2" >IP</text>
<text transform="translate(353.90,225.30) rotate(-90) scale(0.778,1)" font-size="8.2" text-anchor="middle" fill="#111" stroke="#111" stroke-width="0.32">Histology score</text>
<line x1="391.50" y1="216.94" x2="391.50" y2="204.64" stroke="#2a2a2a" stroke-width="1.0" />
<line x1="387.00" y1="216.94" x2="396.00" y2="216.94" stroke="#2a2a2a" stroke-width="1.0" />
<line x1="387.00" y1="204.64" x2="396.00" y2="204.64" stroke="#2a2a2a" stroke-width="1.0" />
<line x1="382.90" y1="210.72" x2="400.10" y2="210.72" stroke="#2a2a2a" stroke-width="1.4" />
<rect x="387.00" y="203.63" width="3.2" height="3.2" rx="1.1" fill="#c4122f"/>
<rect x="392.80" y="203.63" width="3.2" height="3.2" rx="1.1" fill="#c4122f"/>
<rect x="387.00" y="210.65" width="3.2" height="3.2" rx="1.1" fill="#c4122f"/>
<rect x="392.80" y="210.65" width="3.2" height="3.2" rx="1.1" fill="#c4122f"/>
<rect x="389.90" y="217.68" width="3.2" height="3.2" rx="1.1" fill="#c4122f"/>
<line x1="417.10" y1="212.69" x2="417.10" y2="205.37" stroke="#2a2a2a" stroke-width="1.0" />
<line x1="412.60" y1="212.69" x2="421.60" y2="212.69" stroke="#2a2a2a" stroke-width="1.0" />
<line x1="412.60" y1="205.37" x2="421.60" y2="205.37" stroke="#2a2a2a" stroke-width="1.0" />
<line x1="408.50" y1="209.54" x2="425.70" y2="209.54" stroke="#2a2a2a" stroke-width="1.4" />
<circle cx="414.90" cy="205.37" r="1.7" fill="#1e4a90"/>
<circle cx="419.30" cy="205.37" r="1.7" fill="#1e4a90"/>
<circle cx="412.80" cy="212.33" r="1.7" fill="#1e4a90"/>
<circle cx="417.10" cy="212.33" r="1.7" fill="#1e4a90"/>
<circle cx="421.40" cy="212.33" r="1.7" fill="#1e4a90"/>
<line x1="442.70" y1="242.70" x2="442.70" y2="222.94" stroke="#2a2a2a" stroke-width="1.0" />
<line x1="438.20" y1="242.70" x2="447.20" y2="242.70" stroke="#2a2a2a" stroke-width="1.0" />
<line x1="438.20" y1="222.94" x2="447.20" y2="222.94" stroke="#2a2a2a" stroke-width="1.0" />
<line x1="434.10" y1="232.82" x2="451.30" y2="232.82" stroke="#2a2a2a" stroke-width="1.4" />
<polygon points="442.70,218.01 440.70,221.61 444.70,221.61" fill="#62b53e"/>
<polygon points="442.70,225.33 440.70,228.93 444.70,228.93" fill="#62b53e"/>
<polygon points="442.70,232.65 440.70,236.25 444.70,236.25" fill="#62b53e"/>
<polygon points="439.90,239.97 437.90,243.57 441.90,243.57" fill="#62b53e"/>
<polygon points="445.50,239.97 443.50,243.57 447.50,243.57" fill="#62b53e"/>
<line x1="468.30" y1="239.78" x2="468.30" y2="222.94" stroke="#2a2a2a" stroke-width="1.0" />
<line x1="463.80" y1="239.78" x2="472.80" y2="239.78" stroke="#2a2a2a" stroke-width="1.0" />
<line x1="463.80" y1="222.94" x2="472.80" y2="222.94" stroke="#2a2a2a" stroke-width="1.0" />
<line x1="459.70" y1="231.36" x2="476.90" y2="231.36" stroke="#2a2a2a" stroke-width="1.4" />
<circle cx="468.30" cy="219.65" r="1.85" fill="#fff" fill-opacity="0.55" stroke="#5a2b80" stroke-width="0.95"/>
<circle cx="468.30" cy="227.33" r="1.85" fill="#fff" fill-opacity="0.55" stroke="#5a2b80" stroke-width="0.95"/>
<circle cx="465.50" cy="234.29" r="1.85" fill="#fff" fill-opacity="0.55" stroke="#5a2b80" stroke-width="0.95"/>
<circle cx="471.10" cy="234.29" r="1.85" fill="#fff" fill-opacity="0.55" stroke="#5a2b80" stroke-width="0.95"/>
<circle cx="468.30" cy="241.24" r="1.85" fill="#fff" fill-opacity="0.55" stroke="#5a2b80" stroke-width="0.95"/>
<polyline points="420.00,198.90 466.20,198.90 466.20,206.00" fill="none" stroke="#444" stroke-width="1.25" stroke-linejoin="round" />
<text x="443.20" y="198.60" font-size="6.5" text-anchor="middle" font-weight="normal" fill="#111" stroke="#111" stroke-width="0.2" >**</text>
<polyline points="428.80,208.30 442.90,208.30 442.90,215.00" fill="none" stroke="#444" stroke-width="1.25" stroke-linejoin="round" />
<text x="435.50" y="208.00" font-size="6.5" text-anchor="middle" font-weight="normal" fill="#111" stroke="#111" stroke-width="0.2" >**</text>
<path d="M0 0H520V283H0Z M1.25 1.1V281.95H518.85V1.1Z" fill="#000" fill-rule="evenodd"/>
</svg>
</body></html>
